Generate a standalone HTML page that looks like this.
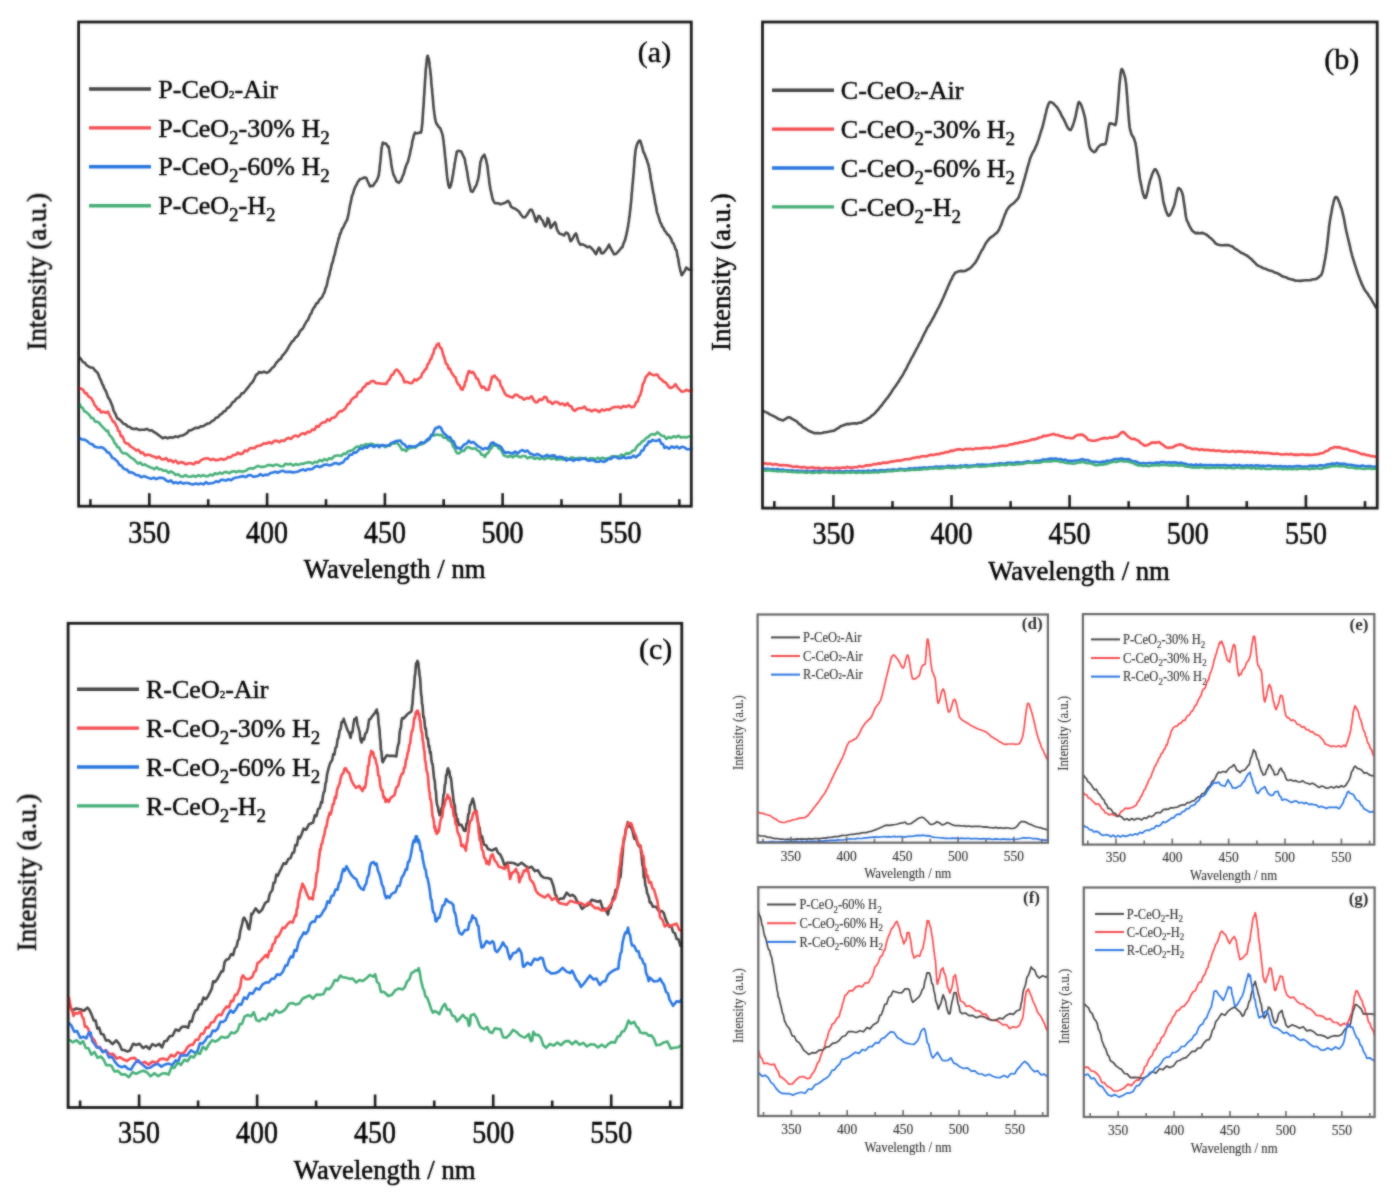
<!DOCTYPE html><html><head><meta charset="utf-8"><style>html,body{margin:0;padding:0;background:#fff;}svg{display:block;}text{font-family:"Liberation Serif",serif;}</style></head><body>
<div id="w"><svg width="1398" height="1199" viewBox="0 0 1398 1199">
<defs><filter id="soft" filterUnits="userSpaceOnUse" x="0" y="0" width="1398" height="1199"><feGaussianBlur in="SourceGraphic" stdDeviation="1" result="b"/><feComposite in="SourceGraphic" in2="b" operator="arithmetic" k1="0" k2="0.45" k3="0.55" k4="0"/></filter><filter id="blur1" filterUnits="userSpaceOnUse" x="0" y="0" width="1398" height="1199"><feGaussianBlur in="SourceGraphic" stdDeviation="1"/></filter></defs>
<rect width="1398" height="1199" fill="#fff"/>
<g filter="url(#soft)">
<path d="M79.4,357.2 L81.2,359.4 L83.0,362.1 L84.8,362.8 L86.6,365.2 L88.8,366.7 L90.9,367.5 L93.0,367.8 L95.2,370.8 L96.3,371.5 L97.5,372.6 L98.6,375.0 L99.8,378.3 L100.9,380.2 L102.1,383.6 L103.2,385.5 L104.3,388.5 L105.3,390.1 L106.3,392.1 L107.3,395.2 L108.4,397.9 L109.4,399.2 L110.4,401.2 L111.4,403.7 L112.4,406.1 L113.4,409.9 L114.5,412.6 L115.5,413.8 L116.5,416.8 L117.5,418.5 L119.1,419.2 L121.2,421.1 L123.4,423.8 L125.5,424.2 L127.7,426.5 L129.8,427.0 L132.0,428.6 L134.1,429.0 L136.5,428.6 L139.1,429.9 L141.7,429.8 L144.3,429.8 L146.9,428.9 L149.5,430.5 L151.7,430.2 L153.9,432.0 L156.1,433.2 L158.3,434.9 L160.5,436.5 L162.7,438.3 L165.1,437.3 L167.7,438.2 L170.3,437.2 L172.9,437.7 L175.5,436.4 L178.1,437.1 L180.3,435.7 L182.5,435.5 L184.7,434.4 L186.9,433.1 L189.1,430.4 L191.3,430.1 L193.6,428.8 L196.0,427.8 L198.4,427.9 L200.8,426.4 L203.2,426.3 L205.6,424.6 L207.8,423.5 L209.8,423.2 L211.9,421.1 L213.9,420.3 L215.9,417.8 L218.0,417.2 L220.0,414.6 L221.9,413.8 L223.7,411.4 L225.5,410.9 L227.3,407.9 L229.1,407.3 L230.9,405.2 L232.7,402.2 L234.5,401.4 L236.3,398.6 L238.1,397.8 L239.9,396.4 L241.7,393.3 L243.4,393.1 L245.2,391.0 L247.0,388.6 L248.8,386.6 L250.4,384.1 L251.8,382.9 L253.3,380.9 L254.7,378.0 L256.1,374.8 L257.6,374.0 L259.0,372.1 L261.1,372.8 L264.0,371.7 L266.8,372.9 L268.7,371.9 L270.5,370.0 L272.4,367.7 L274.3,366.4 L276.1,363.0 L278.0,361.1 L279.4,359.3 L280.8,358.9 L282.3,355.6 L283.7,354.5 L285.1,352.6 L286.5,350.8 L287.9,348.5 L289.3,345.7 L290.8,343.5 L292.2,341.3 L293.6,340.6 L295.1,337.9 L296.7,336.8 L298.3,334.9 L299.8,331.6 L301.4,329.7 L303.0,328.2 L304.2,325.7 L305.4,323.5 L306.6,321.4 L307.8,320.2 L309.0,317.4 L310.1,314.7 L311.3,313.3 L312.5,310.0 L313.7,307.8 L314.9,306.5 L316.2,303.6 L317.8,303.1 L319.2,299.9 L320.8,298.5 L322.2,297.1 L323.3,294.1 L324.0,293.3 L324.7,291.7 L325.3,288.9 L326.0,287.4 L326.7,285.7 L327.3,282.7 L328.0,279.3 L328.7,276.8 L329.3,275.2 L330.0,271.4 L330.7,269.5 L331.3,266.2 L332.0,263.6 L332.7,262.1 L333.3,259.5 L334.0,256.3 L334.7,254.8 L335.3,251.8 L336.0,248.3 L336.6,246.7 L337.3,243.5 L338.0,241.3 L338.6,238.6 L339.3,237.1 L339.9,233.9 L340.6,233.4 L341.7,229.7 L342.9,227.8 L344.0,225.8 L345.1,223.3 L346.2,221.3 L347.1,219.9 L347.6,217.8 L348.2,215.4 L348.7,212.8 L349.3,209.1 L349.8,206.3 L350.4,203.6 L350.9,201.7 L351.5,198.6 L352.0,195.8 L352.6,194.6 L353.1,193.4 L354.3,189.2 L355.4,186.4 L356.6,184.7 L357.7,181.9 L358.9,180.8 L360.0,179.0 L361.9,178.7 L364.4,177.5 L366.2,177.7 L367.5,181.0 L368.7,183.5 L370.0,186.5 L371.4,185.8 L373.1,185.9 L374.8,183.0 L376.4,181.2 L378.1,177.2 L378.4,175.8 L378.8,175.4 L379.1,172.2 L379.5,170.4 L379.8,165.9 L380.2,162.8 L380.5,160.4 L380.9,155.7 L381.2,152.4 L381.5,149.2 L381.9,146.8 L382.2,145.4 L382.6,143.0 L382.9,142.5 L384.1,143.4 L386.1,143.6 L388.1,147.0 L388.6,146.6 L389.0,148.6 L389.5,152.1 L389.9,154.3 L390.4,157.7 L390.8,159.5 L391.3,164.0 L391.7,166.6 L392.2,169.3 L392.6,170.7 L393.1,173.4 L394.2,176.2 L395.4,178.5 L396.5,181.5 L397.6,181.9 L398.7,182.9 L399.7,181.7 L400.7,181.1 L401.7,178.9 L402.7,175.8 L403.7,174.1 L404.7,170.1 L405.7,167.0 L406.7,164.1 L407.7,162.3 L408.5,159.7 L409.2,156.5 L409.8,154.7 L410.5,150.3 L411.1,148.5 L411.8,145.3 L412.4,141.0 L413.1,139.0 L413.7,135.8 L414.4,134.4 L415.0,132.6 L415.7,133.0 L418.2,133.2 L420.7,132.0 L420.9,132.7 L421.1,131.4 L421.4,131.4 L421.6,129.7 L421.8,127.9 L422.0,125.8 L422.3,123.8 L422.5,120.1 L422.7,118.0 L422.9,114.3 L423.1,111.6 L423.4,107.1 L423.6,105.0 L423.8,101.4 L424.0,96.5 L424.3,94.1 L424.5,89.5 L424.7,86.9 L424.9,83.5 L425.1,80.0 L425.4,76.6 L425.6,72.6 L425.8,69.2 L426.0,67.5 L426.3,65.2 L426.5,62.3 L426.7,61.2 L426.9,58.5 L427.1,57.8 L427.4,56.0 L427.6,56.8 L427.8,55.8 L428.1,57.1 L428.4,58.0 L428.7,58.3 L429.0,61.0 L429.3,61.9 L429.6,65.4 L429.9,68.0 L430.2,69.5 L430.5,73.5 L430.8,75.4 L431.1,78.9 L431.4,83.4 L431.7,86.7 L432.0,88.7 L432.3,93.2 L432.6,95.6 L432.9,99.2 L433.2,103.0 L433.5,106.3 L433.8,109.4 L434.1,111.1 L434.4,114.2 L434.7,115.5 L435.0,118.7 L435.3,119.1 L435.6,120.6 L436.3,123.4 L437.6,125.1 L438.9,127.2 L440.1,128.0 L441.4,131.2 L442.2,133.8 L442.5,135.0 L442.8,135.5 L443.1,139.0 L443.5,140.4 L443.8,143.9 L444.1,146.1 L444.4,149.0 L444.8,153.0 L445.1,156.4 L445.4,158.7 L445.8,162.6 L446.1,165.4 L446.4,169.8 L446.7,171.8 L447.1,176.2 L447.4,178.5 L447.7,180.8 L448.0,182.3 L448.4,185.1 L448.7,185.7 L449.0,186.4 L449.3,187.8 L449.8,187.8 L450.3,186.5 L450.9,185.4 L451.4,182.5 L451.9,181.2 L452.5,177.0 L453.0,174.9 L453.6,170.3 L454.1,167.9 L454.7,163.3 L455.2,160.9 L455.8,157.2 L456.3,155.1 L456.8,151.8 L457.4,151.6 L457.9,150.8 L459.2,151.0 L461.2,151.5 L463.2,155.8 L463.8,157.0 L464.3,157.9 L464.9,159.9 L465.5,163.8 L466.0,165.5 L466.6,169.4 L467.2,171.8 L467.7,175.6 L468.3,179.2 L468.9,182.2 L469.4,184.4 L470.0,186.9 L470.6,189.8 L471.1,191.3 L471.7,190.9 L472.6,191.8 L473.8,189.8 L475.0,187.3 L476.2,185.5 L477.4,181.5 L478.2,178.8 L478.6,176.7 L478.9,175.3 L479.3,171.9 L479.7,167.9 L480.1,165.5 L480.4,162.1 L480.8,161.4 L481.8,157.8 L483.2,155.9 L484.4,154.7 L485.3,157.8 L486.1,159.7 L487.0,164.5 L487.3,165.0 L487.7,168.7 L488.0,171.3 L488.3,174.1 L488.7,176.8 L489.0,178.5 L489.3,182.5 L489.7,184.7 L490.0,186.5 L490.6,190.0 L491.2,192.2 L491.8,195.3 L492.5,198.7 L493.1,200.0 L493.7,201.5 L495.3,203.3 L498.0,203.3 L500.7,204.3 L503.2,203.4 L505.6,202.6 L508.0,200.8 L509.5,202.5 L511.0,206.7 L513.0,207.9 L515.3,208.7 L518.0,210.7 L519.3,212.0 L521.0,214.7 L523.0,217.3 L524.9,217.4 L526.6,215.5 L528.4,212.5 L530.1,209.7 L531.8,209.8 L533.2,212.9 L534.3,215.7 L535.0,218.3 L535.7,221.0 L536.5,221.8 L537.5,218.3 L538.5,215.9 L539.8,216.2 L541.2,219.1 L542.7,220.7 L544.0,224.3 L545.3,226.5 L546.3,224.8 L547.0,222.4 L547.7,218.1 L548.4,219.2 L549.1,220.6 L549.9,224.2 L550.6,228.0 L551.8,226.7 L553.4,224.2 L555.0,222.2 L555.9,224.2 L556.7,228.7 L557.6,230.6 L559.2,233.4 L561.6,234.2 L564.0,235.4 L566.0,232.5 L567.5,233.1 L568.5,234.5 L569.5,237.8 L570.5,241.2 L571.7,240.2 L573.1,237.8 L574.6,234.9 L576.0,233.4 L576.9,235.9 L577.7,239.4 L578.6,241.9 L580.2,244.6 L582.5,244.3 L584.8,245.4 L587.2,247.2 L589.6,246.5 L592.0,248.8 L593.3,250.1 L594.7,252.2 L596.0,254.2 L597.0,251.8 L598.0,249.5 L599.0,247.7 L600.0,248.6 L601.0,252.8 L602.0,253.5 L604.0,252.4 L606.0,249.8 L607.5,247.8 L609.0,244.5 L610.2,247.1 L611.5,249.8 L612.8,251.9 L614.0,254.3 L616.0,253.9 L618.0,251.9 L620.0,249.5 L621.5,247.6 L622.4,247.3 L623.3,244.1 L624.2,241.9 L625.1,239.9 L626.0,235.9 L626.4,235.0 L626.8,232.0 L627.2,231.3 L627.6,228.1 L628.0,226.8 L628.4,223.3 L628.8,221.4 L629.2,217.6 L629.6,215.9 L630.0,211.6 L630.2,210.6 L630.5,207.6 L630.7,205.2 L630.9,204.0 L631.2,200.8 L631.4,198.8 L631.6,195.4 L631.8,192.7 L632.1,190.8 L632.3,187.3 L632.5,184.8 L632.8,182.8 L633.0,179.5 L633.2,177.8 L633.5,174.0 L633.7,172.4 L633.9,168.7 L634.2,166.1 L634.4,162.2 L634.6,160.2 L634.8,156.6 L635.1,155.1 L635.3,152.3 L635.5,150.8 L635.8,148.3 L636.0,148.3 L637.1,144.1 L638.2,142.1 L639.3,140.6 L640.2,140.8 L640.9,142.7 L641.7,145.5 L642.4,147.7 L643.2,151.5 L644.1,153.0 L645.0,155.0 L645.9,157.8 L646.8,159.6 L647.7,162.9 L648.4,164.5 L648.9,167.3 L649.3,168.7 L649.8,172.0 L650.2,173.7 L650.6,177.6 L651.1,180.3 L651.5,182.0 L652.0,185.2 L652.4,187.6 L652.9,190.3 L653.4,193.4 L653.9,194.6 L654.4,198.7 L654.8,200.2 L655.3,203.8 L655.8,205.2 L656.3,207.7 L656.8,211.2 L657.2,213.1 L657.7,213.9 L658.2,215.6 L659.2,218.6 L660.2,222.5 L661.2,223.6 L662.2,226.7 L663.2,227.5 L664.6,230.6 L666.0,232.1 L667.4,234.5 L668.8,235.2 L670.2,237.5 L671.3,239.3 L672.4,242.5 L673.5,243.4 L674.6,246.4 L675.7,249.5 L676.5,250.3 L677.1,253.9 L677.6,256.7 L678.2,258.7 L678.8,262.7 L679.3,266.0 L679.9,268.0 L680.5,271.4 L681.1,272.6 L681.6,275.3 L682.2,274.8 L683.5,272.6 L684.9,270.7 L686.2,267.5 L688.7,269.6 L691.2,269.8 L691.2,270.2" fill="none" stroke="#444444" stroke-width="2.6" stroke-linejoin="round" stroke-linecap="round"/>
<path d="M79.4,388.5 L81.2,388.6 L83.0,389.6 L84.9,393.1 L86.7,393.4 L88.5,396.7 L90.2,397.4 L91.7,398.8 L93.2,401.6 L94.8,405.4 L96.3,406.8 L97.8,409.7 L99.4,409.3 L100.9,412.4 L103.3,411.7 L105.6,412.8 L108.0,411.6 L109.3,414.5 L110.6,417.0 L111.9,419.5 L113.2,421.9 L114.5,421.9 L115.8,425.0 L117.1,426.7 L118.3,431.0 L119.6,431.3 L120.8,436.2 L122.1,436.0 L123.3,438.4 L124.6,442.2 L126.2,443.4 L128.2,443.6 L130.2,446.1 L132.2,447.5 L134.2,448.7 L136.3,450.4 L138.5,449.8 L140.7,452.9 L142.9,452.6 L145.1,455.5 L147.3,454.8 L149.5,454.8 L151.9,456.0 L154.3,456.7 L156.7,458.1 L159.0,456.6 L161.4,459.2 L163.8,459.4 L166.2,458.1 L168.6,461.1 L170.9,460.0 L173.3,462.3 L175.7,460.5 L178.1,463.4 L180.7,462.1 L183.3,462.6 L185.9,464.4 L188.5,463.3 L191.1,463.3 L193.6,464.4 L196.0,462.0 L198.4,462.8 L200.8,460.3 L203.2,459.1 L205.6,458.5 L208.1,458.4 L210.7,460.0 L213.3,458.9 L215.8,460.3 L218.4,459.9 L221.0,458.8 L223.4,459.7 L225.8,459.1 L228.2,456.9 L230.6,457.4 L233.0,455.1 L235.4,455.0 L237.8,452.7 L240.2,454.2 L242.6,453.4 L244.9,450.4 L247.3,451.3 L249.7,448.3 L252.1,448.0 L254.5,448.3 L256.9,446.0 L259.2,445.7 L261.6,444.9 L264.0,443.2 L266.5,443.7 L269.1,442.1 L271.6,443.5 L274.2,440.9 L276.7,440.7 L279.2,442.2 L281.6,440.4 L284.0,440.9 L286.3,438.9 L288.7,437.8 L291.1,439.0 L293.5,436.3 L295.9,435.6 L298.3,436.7 L300.6,434.4 L303.0,433.2 L305.4,434.2 L307.7,431.7 L309.9,432.3 L312.1,429.5 L314.3,430.0 L316.5,426.1 L318.7,426.7 L320.9,423.6 L323.1,422.4 L325.3,422.3 L327.5,419.4 L329.7,420.7 L331.9,417.7 L334.1,417.7 L336.2,415.9 L338.1,412.8 L340.0,411.4 L341.9,411.1 L343.8,409.7 L345.7,408.0 L347.6,404.3 L349.5,403.6 L351.2,400.2 L352.9,398.4 L354.5,397.0 L356.2,396.7 L357.9,392.6 L359.6,391.8 L361.3,391.0 L363.0,387.5 L364.8,386.8 L366.9,383.4 L368.9,383.7 L371.0,381.3 L373.6,381.1 L376.2,383.3 L378.8,383.2 L381.4,383.7 L384.0,383.7 L386.2,384.0 L387.9,380.9 L389.7,379.3 L391.4,374.9 L393.2,374.4 L394.9,370.8 L396.7,369.5 L398.3,370.8 L399.8,372.9 L401.4,375.2 L402.9,377.7 L404.5,382.3 L406.0,381.8 L407.9,382.0 L410.1,383.3 L412.3,382.9 L414.4,379.3 L416.6,380.5 L418.8,378.5 L421.0,377.1 L422.3,373.2 L423.6,372.1 L425.0,369.4 L426.3,369.0 L427.6,364.3 L428.9,363.3 L430.1,359.6 L431.2,359.3 L432.3,354.9 L433.4,353.6 L434.4,348.5 L435.5,348.3 L436.6,344.9 L437.7,344.7 L438.7,343.3 L439.6,346.5 L440.6,347.9 L441.5,348.4 L442.5,351.8 L443.5,355.9 L444.4,357.6 L445.4,361.8 L446.3,364.0 L447.5,364.8 L448.8,369.0 L450.1,368.8 L451.4,372.7 L452.7,374.2 L454.0,376.4 L455.4,377.1 L456.8,381.8 L458.2,384.3 L459.7,385.6 L461.1,389.3 L462.5,389.7 L463.4,387.4 L464.3,386.4 L465.2,381.7 L466.1,380.9 L467.0,375.8 L467.9,374.0 L468.8,371.1 L469.7,371.4 L471.4,372.7 L473.0,372.0 L474.7,374.5 L476.3,378.2 L478.0,379.0 L479.3,382.9 L480.6,385.4 L481.9,387.9 L483.8,386.7 L486.3,389.9 L488.7,389.7 L489.5,386.4 L490.4,383.9 L491.2,380.2 L492.0,376.9 L492.9,377.2 L494.4,375.5 L496.8,378.3 L498.5,380.4 L499.6,380.7 L500.8,386.0 L501.9,386.9 L503.3,390.2 L505.0,393.6 L506.7,395.6 L508.4,396.1 L510.1,396.7 L512.6,397.6 L515.1,394.7 L517.4,394.9 L519.6,397.1 L521.7,397.4 L523.9,399.6 L526.5,398.0 L529.0,398.4 L531.6,396.3 L533.4,399.4 L535.3,402.2 L537.4,402.1 L539.6,399.2 L542.0,400.0 L544.2,396.9 L546.3,397.2 L548.1,401.7 L549.9,401.5 L552.5,404.0 L555.2,401.8 L557.8,402.2 L560.3,404.4 L562.7,403.5 L565.0,405.5 L567.4,403.1 L569.8,406.3 L571.4,406.4 L572.9,409.6 L574.9,410.9 L577.3,408.7 L579.7,408.3 L582.1,408.3 L584.5,406.5 L586.9,409.7 L589.2,409.7 L591.6,411.3 L594.1,409.8 L596.6,410.1 L599.2,412.0 L601.7,409.6 L604.3,410.5 L606.8,409.3 L609.3,409.9 L611.6,408.0 L614.0,407.1 L616.3,407.0 L618.7,406.8 L621.0,408.0 L623.4,406.0 L626.1,406.9 L628.8,405.4 L631.4,407.2 L634.1,406.7 L635.3,404.4 L636.6,401.7 L637.8,401.5 L639.1,396.4 L640.3,395.2 L641.0,391.8 L641.7,390.7 L642.4,385.9 L643.1,383.4 L643.8,382.8 L644.5,380.9 L645.7,377.1 L647.6,375.1 L649.4,372.7 L652.5,375.0 L655.1,375.1 L657.3,374.5 L659.5,378.2 L661.7,379.6 L663.5,381.7 L665.4,382.3 L667.2,384.4 L669.1,387.2 L670.9,388.0 L673.2,386.8 L675.5,384.2 L677.5,387.4 L679.6,389.6 L681.6,391.6 L684.1,391.3 L686.5,389.8 L689.0,391.1 L691.5,389.7 L691.5,390.5" fill="none" stroke="#f5484b" stroke-width="2.6" stroke-linejoin="round" stroke-linecap="round"/>
<path d="M79.4,403.6 L81.1,407.2 L82.7,408.0 L84.4,411.4 L86.1,411.8 L87.7,413.4 L89.4,415.1 L91.3,417.9 L93.2,418.1 L95.1,421.6 L97.0,421.7 L99.0,422.6 L100.9,425.1 L102.8,427.1 L104.7,429.2 L106.6,431.2 L107.9,430.7 L109.3,434.8 L110.6,436.2 L112.0,437.7 L113.3,439.8 L114.6,443.2 L116.0,444.1 L117.3,447.3 L119.0,447.3 L121.0,451.4 L123.0,453.3 L125.0,453.3 L127.0,454.0 L129.1,455.9 L131.3,457.8 L133.5,458.9 L135.8,461.4 L138.0,463.6 L140.2,462.5 L142.4,464.9 L144.8,464.4 L147.2,465.8 L149.5,467.0 L151.9,467.9 L154.3,469.1 L156.7,467.3 L159.0,469.3 L161.4,469.3 L163.8,470.8 L166.2,470.5 L168.6,472.8 L171.0,471.4 L173.4,472.8 L175.7,475.0 L178.1,474.1 L180.5,476.3 L182.9,476.6 L185.3,475.1 L187.9,476.5 L190.5,476.7 L193.1,475.7 L195.7,476.8 L198.3,475.2 L200.8,476.3 L203.2,475.1 L205.5,476.1 L207.9,476.2 L210.3,474.5 L212.7,475.5 L215.1,473.2 L217.4,474.1 L219.8,472.6 L222.2,473.7 L224.6,472.0 L227.0,472.1 L229.4,473.2 L231.8,471.6 L234.1,471.3 L236.5,472.2 L238.9,471.0 L241.3,471.6 L243.7,471.4 L246.1,470.6 L248.5,468.8 L250.9,468.3 L253.2,468.6 L255.6,467.1 L258.0,465.9 L260.4,466.9 L262.8,466.9 L265.3,466.4 L267.8,465.1 L270.4,465.0 L272.9,466.0 L275.5,464.7 L278.0,464.8 L280.5,466.3 L283.1,466.2 L285.6,463.8 L288.1,464.5 L290.6,463.8 L293.2,465.5 L295.7,464.1 L298.2,464.9 L300.7,463.9 L303.1,463.9 L305.4,463.0 L307.8,462.4 L310.2,462.3 L312.6,463.6 L315.0,461.7 L317.3,462.4 L319.7,460.0 L322.1,461.2 L324.5,459.0 L326.9,460.4 L329.3,458.3 L331.6,459.1 L334.0,456.3 L336.4,455.5 L338.8,455.5 L341.2,456.0 L343.5,453.6 L345.8,453.9 L348.0,451.4 L350.2,450.7 L352.5,450.2 L354.7,448.3 L356.9,446.5 L359.2,447.3 L361.4,445.1 L363.6,445.9 L365.9,444.0 L368.1,445.0 L370.6,443.7 L373.0,444.2 L375.5,445.7 L377.9,444.9 L380.4,445.6 L382.8,445.6 L385.3,447.2 L387.6,445.2 L389.9,446.0 L392.1,443.3 L394.4,443.7 L396.7,441.7 L398.5,444.6 L400.3,446.8 L402.1,450.0 L403.9,449.5 L406.2,451.1 L408.5,448.5 L410.7,448.0 L413.0,447.2 L415.3,447.8 L417.6,445.6 L419.9,444.6 L422.1,444.2 L424.2,443.0 L426.3,440.0 L428.4,440.4 L430.5,436.7 L432.6,435.7 L434.7,435.3 L436.8,434.5 L439.1,435.1 L441.5,435.0 L443.8,437.8 L446.2,437.5 L448.5,440.5 L450.4,440.7 L451.9,443.0 L453.3,446.9 L454.7,448.4 L456.1,452.1 L457.6,453.4 L459.4,453.2 L461.7,450.8 L464.0,450.9 L466.3,447.7 L468.6,447.1 L470.9,448.4 L473.3,448.8 L475.6,448.3 L478.0,451.0 L479.7,451.3 L481.5,454.8 L483.2,454.9 L484.9,457.0 L486.6,453.7 L488.2,453.0 L489.9,449.6 L491.5,448.0 L493.2,444.9 L494.8,445.8 L496.6,444.4 L498.4,448.3 L500.2,448.9 L502.0,451.7 L503.8,455.4 L505.6,456.1 L508.0,457.0 L510.5,455.7 L512.9,457.3 L515.4,455.3 L517.8,456.2 L520.2,457.3 L522.7,456.0 L525.1,456.0 L527.5,458.4 L530.0,456.9 L532.4,457.4 L534.8,459.0 L537.2,457.6 L539.6,459.2 L542.1,457.9 L544.5,459.3 L546.9,457.8 L549.3,458.0 L551.7,459.0 L554.1,457.7 L556.5,459.7 L559.0,458.9 L561.4,459.2 L563.8,459.6 L566.2,457.7 L568.6,459.6 L571.0,457.6 L573.4,457.7 L575.9,458.9 L578.3,458.0 L580.7,457.7 L583.1,459.0 L585.5,457.8 L588.0,459.7 L590.4,458.2 L592.8,458.2 L595.2,459.5 L597.6,457.7 L600.1,459.0 L602.5,457.7 L604.9,458.7 L607.3,458.3 L609.7,457.8 L612.2,456.2 L614.6,456.2 L617.0,456.6 L619.3,456.3 L621.7,454.6 L624.0,455.7 L626.4,453.1 L628.7,453.9 L631.1,452.2 L632.9,450.5 L634.8,450.3 L636.6,446.9 L638.4,444.8 L640.2,444.0 L642.1,441.2 L643.9,440.8 L645.9,438.2 L648.2,437.0 L650.5,434.8 L652.9,434.1 L655.1,434.7 L657.5,432.2 L659.7,434.1 L661.9,435.8 L664.1,436.1 L666.3,438.9 L668.7,437.0 L671.2,438.1 L673.6,436.2 L676.1,437.3 L678.5,435.7 L681.1,437.6 L683.7,436.9 L686.3,437.6 L688.9,436.4 L691.5,437.4 L691.5,437.1" fill="none" stroke="#43ad74" stroke-width="2.6" stroke-linejoin="round" stroke-linecap="round"/>
<path d="M79.4,437.7 L81.6,439.5 L83.7,439.5 L85.8,440.2 L88.0,441.9 L90.2,443.9 L92.3,444.1 L94.5,446.5 L96.7,447.3 L98.9,447.5 L101.1,447.2 L103.3,448.0 L105.5,449.9 L107.4,452.4 L109.1,452.6 L110.8,455.2 L112.4,458.0 L114.1,458.4 L115.8,460.0 L117.5,461.4 L119.4,464.9 L121.3,465.4 L123.2,468.2 L125.2,469.5 L127.0,469.6 L129.2,472.4 L131.6,472.3 L134.0,473.5 L136.4,475.3 L138.8,475.2 L141.2,477.3 L143.7,476.1 L146.2,476.9 L148.7,478.1 L151.2,478.8 L153.7,477.6 L156.2,479.1 L158.8,477.8 L161.3,477.9 L163.8,478.3 L166.2,480.5 L168.6,481.7 L170.9,480.3 L173.3,483.2 L175.7,482.3 L178.1,483.4 L180.6,482.0 L183.2,483.6 L185.7,483.0 L188.2,483.0 L190.7,484.0 L193.3,484.4 L195.8,483.5 L198.3,484.2 L200.9,483.4 L203.4,484.4 L205.9,482.2 L208.4,483.8 L210.9,483.3 L213.4,483.0 L216.0,481.2 L218.5,482.0 L221.0,479.9 L223.5,479.9 L226.0,480.6 L228.5,479.2 L231.0,480.3 L233.5,478.4 L236.0,477.5 L238.5,477.2 L241.0,476.5 L243.4,476.1 L245.8,477.1 L248.3,475.4 L250.7,475.0 L253.1,476.7 L255.5,476.4 L257.9,476.0 L260.4,474.1 L262.8,475.8 L265.3,474.6 L267.8,475.0 L270.4,473.1 L272.9,472.6 L275.5,471.7 L278.0,472.7 L280.5,471.3 L283.1,470.8 L285.6,472.0 L288.1,471.9 L290.6,471.9 L293.2,472.4 L295.7,472.0 L298.2,471.5 L300.7,470.2 L303.1,469.4 L305.4,470.6 L307.8,469.0 L310.2,469.4 L312.6,468.8 L315.0,466.7 L317.3,466.0 L319.7,467.2 L322.1,466.0 L324.5,464.7 L326.9,464.5 L329.3,465.4 L331.6,464.8 L334.0,463.3 L336.4,463.0 L338.8,464.3 L341.2,463.0 L343.4,462.2 L345.4,458.9 L347.5,458.7 L349.5,454.8 L351.7,454.8 L353.9,452.4 L356.1,452.6 L358.3,450.4 L360.4,448.2 L362.6,448.9 L364.8,446.9 L367.0,447.8 L369.3,445.5 L371.8,445.6 L374.2,447.1 L376.7,445.1 L379.2,447.3 L381.6,445.0 L384.1,445.2 L386.5,446.1 L388.8,445.3 L391.2,442.9 L393.5,442.2 L395.9,441.1 L398.2,440.8 L400.4,440.6 L402.5,443.7 L404.6,444.5 L406.8,447.5 L409.2,446.0 L411.6,446.4 L413.9,446.7 L416.3,445.9 L418.7,444.5 L421.1,442.3 L423.4,443.1 L425.8,441.9 L428.2,438.5 L429.7,439.0 L431.3,434.8 L432.8,434.4 L434.4,430.0 L435.9,427.8 L437.4,427.9 L439.1,426.6 L440.8,427.6 L442.5,431.4 L444.2,433.6 L445.9,434.9 L447.9,437.4 L450.0,437.1 L452.0,440.7 L453.7,441.5 L455.4,445.7 L457.1,448.1 L458.8,447.9 L460.7,449.0 L462.7,446.0 L464.7,444.2 L466.7,443.6 L468.7,440.6 L470.9,442.8 L473.3,442.1 L475.6,444.0 L478.0,446.4 L480.4,447.4 L482.9,449.5 L485.1,448.0 L487.2,448.9 L489.2,446.8 L491.3,442.9 L493.3,442.4 L495.6,444.7 L497.9,445.6 L499.7,445.8 L501.6,447.7 L503.4,451.0 L505.3,452.9 L507.1,452.3 L509.7,452.6 L512.4,453.6 L515.0,451.6 L517.6,453.4 L520.1,451.2 L522.6,450.0 L525.1,451.7 L527.4,450.5 L529.8,453.3 L532.1,454.2 L534.5,455.4 L536.8,454.0 L539.2,454.7 L541.8,456.5 L544.3,456.3 L546.9,454.8 L549.4,456.3 L552.0,455.6 L554.5,455.4 L556.9,457.8 L559.2,456.8 L561.6,457.1 L563.9,457.9 L566.3,460.6 L568.6,459.3 L571.1,459.5 L573.6,460.9 L576.2,459.0 L578.7,460.1 L581.3,459.1 L583.8,458.2 L586.3,459.7 L588.8,460.8 L591.2,460.2 L593.7,460.3 L596.2,461.8 L598.6,461.8 L601.1,460.9 L603.5,461.9 L606.0,461.1 L608.4,458.8 L610.9,459.0 L613.3,457.0 L615.8,456.7 L618.3,458.5 L620.8,458.3 L623.4,456.9 L625.9,458.3 L628.4,457.6 L630.9,457.6 L633.4,455.7 L635.9,457.3 L638.1,455.2 L639.8,454.6 L641.6,450.5 L643.3,450.4 L645.1,446.0 L647.0,445.1 L648.8,441.4 L650.7,441.9 L652.5,439.9 L654.9,440.9 L657.4,440.6 L659.5,439.4 L661.2,443.4 L662.9,443.9 L664.6,448.0 L666.3,446.8 L669.0,448.7 L671.6,446.5 L674.3,447.7 L677.0,446.5 L679.4,448.4 L681.8,446.8 L684.2,447.3 L686.7,449.1 L689.1,449.2 L691.5,448.9 L691.5,448.6" fill="none" stroke="#2573e0" stroke-width="2.6" stroke-linejoin="round" stroke-linecap="round"/>
<rect x="78.6" y="22" width="612.6999999999999" height="484.2" fill="none" stroke="#1a1a1a" stroke-width="2.8"/>
<line x1="90.4" y1="506.2" x2="90.4" y2="499.2" stroke="#1a1a1a" stroke-width="2.6"/>
<line x1="149.3" y1="506.2" x2="149.3" y2="493.2" stroke="#1a1a1a" stroke-width="2.6"/>
<line x1="208.2" y1="506.2" x2="208.2" y2="499.2" stroke="#1a1a1a" stroke-width="2.6"/>
<line x1="267.1" y1="506.2" x2="267.1" y2="493.2" stroke="#1a1a1a" stroke-width="2.6"/>
<line x1="326.0" y1="506.2" x2="326.0" y2="499.2" stroke="#1a1a1a" stroke-width="2.6"/>
<line x1="384.9" y1="506.2" x2="384.9" y2="493.2" stroke="#1a1a1a" stroke-width="2.6"/>
<line x1="443.7" y1="506.2" x2="443.7" y2="499.2" stroke="#1a1a1a" stroke-width="2.6"/>
<line x1="502.6" y1="506.2" x2="502.6" y2="493.2" stroke="#1a1a1a" stroke-width="2.6"/>
<line x1="561.5" y1="506.2" x2="561.5" y2="499.2" stroke="#1a1a1a" stroke-width="2.6"/>
<line x1="620.4" y1="506.2" x2="620.4" y2="493.2" stroke="#1a1a1a" stroke-width="2.6"/>
<line x1="679.3" y1="506.2" x2="679.3" y2="499.2" stroke="#1a1a1a" stroke-width="2.6"/>
<text transform="translate(149.3,542.5) scale(1.0,1.1)" font-size="28" text-anchor="middle" font-weight="normal" fill="#000" stroke="#000" stroke-width="0.5" >350</text>
<text transform="translate(267.1,542.5) scale(1.0,1.1)" font-size="28" text-anchor="middle" font-weight="normal" fill="#000" stroke="#000" stroke-width="0.5" >400</text>
<text transform="translate(384.9,542.5) scale(1.0,1.1)" font-size="28" text-anchor="middle" font-weight="normal" fill="#000" stroke="#000" stroke-width="0.5" >450</text>
<text transform="translate(502.6,542.5) scale(1.0,1.1)" font-size="28" text-anchor="middle" font-weight="normal" fill="#000" stroke="#000" stroke-width="0.5" >500</text>
<text transform="translate(620.4,542.5) scale(1.0,1.1)" font-size="28" text-anchor="middle" font-weight="normal" fill="#000" stroke="#000" stroke-width="0.5" >550</text>
<text x="394.7" y="578" font-size="26.7" text-anchor="middle" font-weight="normal" fill="#000" stroke="#000" stroke-width="0.5" >Wavelength / nm</text>
<text x="0" y="0" font-size="26.9" text-anchor="middle" fill="#000" stroke="#000" stroke-width="0.5" transform="translate(45.8,271.7) rotate(-90)">Intensity (a.u.)</text>
<line x1="89" y1="89.0" x2="151" y2="89.0" stroke="#444444" stroke-width="3.4"/>
<text x="158.3" y="97.6" font-size="26" fill="#000" stroke="#000" stroke-width="0.45">P-CeO<tspan font-size="11">2</tspan>-Air</text>
<line x1="89" y1="127.9" x2="151" y2="127.9" stroke="#f5484b" stroke-width="3.4"/>
<text x="158.3" y="136.5" font-size="26" fill="#000" stroke="#000" stroke-width="0.45">P-CeO<tspan font-size="19" dy="7">2</tspan><tspan dy="-7">-30% H</tspan><tspan font-size="19" dy="7">2</tspan></text>
<line x1="89" y1="166.8" x2="151" y2="166.8" stroke="#2573e0" stroke-width="3.4"/>
<text x="158.3" y="175.4" font-size="26" fill="#000" stroke="#000" stroke-width="0.45">P-CeO<tspan font-size="19" dy="7">2</tspan><tspan dy="-7">-60% H</tspan><tspan font-size="19" dy="7">2</tspan></text>
<line x1="89" y1="205.7" x2="151" y2="205.7" stroke="#43ad74" stroke-width="3.4"/>
<text x="158.3" y="214.3" font-size="26" fill="#000" stroke="#000" stroke-width="0.45">P-CeO<tspan font-size="19" dy="7">2</tspan><tspan dy="-7">-H</tspan><tspan font-size="19" dy="7">2</tspan></text>
<text x="654.5" y="61.9" font-size="30" text-anchor="middle" font-weight="normal" fill="#000" stroke="#000" stroke-width="0.4" >(a)</text>
<path d="M763.0,411.0 L765.2,411.9 L767.5,412.9 L769.8,414.4 L772.0,415.4 L774.2,416.4 L776.4,417.6 L778.6,419.1 L780.8,419.7 L783.0,420.5 L785.5,418.8 L788.0,417.3 L790.3,417.6 L792.6,419.2 L794.9,420.4 L797.0,421.6 L799.0,423.8 L801.0,425.1 L803.0,427.4 L805.0,428.3 L807.2,429.8 L809.8,431.3 L812.2,432.3 L814.8,433.3 L817.2,433.0 L819.7,433.2 L822.2,433.0 L824.6,432.3 L827.1,432.1 L829.5,431.6 L832.0,430.9 L834.2,430.7 L836.3,429.1 L838.5,428.0 L840.6,426.2 L842.8,425.5 L844.9,424.7 L847.2,423.9 L849.6,424.1 L852.0,423.5 L854.4,423.3 L856.8,423.6 L859.1,422.8 L861.3,422.6 L863.5,421.0 L865.7,420.2 L867.9,418.6 L870.1,417.3 L871.7,415.7 L873.4,414.6 L875.0,413.1 L876.7,411.0 L878.3,409.5 L880.0,407.1 L881.6,405.5 L883.3,403.0 L884.8,401.2 L886.2,399.1 L887.7,397.7 L889.1,395.3 L890.5,393.6 L892.0,391.1 L893.4,388.9 L894.8,387.0 L896.1,385.4 L897.4,383.2 L898.8,381.4 L900.1,379.0 L901.4,377.0 L902.7,375.3 L903.8,373.0 L905.0,370.7 L906.1,369.1 L907.2,366.8 L908.4,364.1 L909.5,362.4 L910.7,359.8 L911.9,357.5 L913.1,355.8 L914.3,353.1 L915.4,351.3 L916.6,348.7 L917.8,346.9 L919.0,344.1 L920.2,342.3 L921.3,340.2 L922.4,337.5 L923.5,335.3 L924.6,333.0 L925.7,331.3 L926.8,328.7 L928.0,326.6 L929.3,324.9 L930.5,322.7 L931.7,320.7 L933.0,318.2 L934.2,316.3 L935.3,313.7 L936.5,311.8 L937.6,309.3 L938.8,307.4 L939.9,304.8 L941.1,302.6 L942.2,300.0 L943.2,298.0 L944.2,295.6 L945.2,293.4 L946.2,290.7 L947.2,288.8 L948.2,286.1 L949.2,284.2 L950.2,281.7 L951.5,279.4 L952.7,276.5 L954.0,274.5 L955.2,272.7 L957.9,271.6 L960.6,270.9 L964.0,271.3 L966.0,270.6 L968.0,269.4 L970.0,268.3 L972.0,266.3 L974.0,264.0 L975.2,262.8 L976.5,260.5 L977.7,258.6 L978.9,255.9 L980.2,253.5 L981.4,251.0 L982.7,249.2 L984.0,246.8 L985.3,244.1 L986.7,241.9 L988.0,240.4 L989.8,238.1 L991.6,236.9 L993.5,235.7 L995.3,233.9 L997.1,232.6 L998.5,230.6 L999.5,228.6 L1000.5,226.3 L1001.5,224.1 L1002.5,221.0 L1003.5,218.4 L1004.5,215.6 L1005.5,213.3 L1006.5,210.7 L1007.5,209.1 L1008.9,207.2 L1010.8,205.1 L1012.6,204.0 L1014.4,202.5 L1016.3,200.3 L1018.1,198.3 L1018.9,196.8 L1019.7,194.3 L1020.5,192.4 L1021.3,189.8 L1022.1,186.7 L1022.9,184.4 L1023.7,181.2 L1024.4,179.2 L1025.1,176.6 L1025.8,173.8 L1026.5,171.6 L1027.2,168.6 L1027.9,166.1 L1028.6,163.9 L1029.3,161.5 L1030.0,158.8 L1030.8,156.7 L1031.7,154.7 L1032.8,152.4 L1033.9,150.8 L1035.0,148.6 L1036.1,145.8 L1036.9,144.3 L1037.7,141.8 L1038.5,139.6 L1039.3,136.9 L1040.1,134.5 L1040.9,131.7 L1041.7,129.3 L1042.5,127.0 L1043.2,124.1 L1043.9,121.2 L1044.6,118.4 L1045.4,114.8 L1046.1,112.3 L1046.8,108.9 L1047.6,106.8 L1048.3,104.3 L1049.0,103.1 L1049.7,102.1 L1051.1,102.2 L1053.1,103.2 L1055.1,105.4 L1056.7,106.7 L1057.9,108.6 L1059.2,110.8 L1060.4,112.7 L1061.6,115.7 L1062.9,117.8 L1064.1,119.9 L1065.4,122.8 L1066.8,125.9 L1068.1,128.4 L1069.4,129.7 L1070.6,130.0 L1071.6,128.3 L1072.6,126.1 L1073.6,123.1 L1074.6,119.8 L1075.4,117.2 L1076.0,114.1 L1076.6,110.9 L1077.3,107.9 L1077.9,104.8 L1078.5,102.7 L1079.1,102.0 L1080.1,103.1 L1081.1,104.6 L1082.1,107.6 L1083.1,110.6 L1084.1,114.3 L1084.5,115.9 L1085.0,117.8 L1085.4,120.5 L1085.8,123.0 L1086.2,126.4 L1086.7,129.0 L1087.1,132.6 L1087.5,135.2 L1088.0,138.6 L1088.4,140.9 L1088.8,143.4 L1089.2,145.6 L1089.7,147.0 L1090.1,148.4 L1092.1,150.8 L1094.1,152.2 L1095.8,151.1 L1097.5,148.0 L1099.2,146.0 L1101.3,144.6 L1103.8,144.4 L1105.4,144.0 L1106.0,142.1 L1106.6,139.7 L1107.2,135.9 L1107.7,132.5 L1108.3,129.1 L1108.9,126.0 L1109.5,123.8 L1110.1,123.2 L1112.7,123.9 L1115.2,125.2 L1115.5,124.5 L1115.8,124.1 L1116.0,122.4 L1116.3,120.9 L1116.6,118.4 L1116.9,115.8 L1117.2,113.0 L1117.4,110.2 L1117.7,106.5 L1118.0,103.5 L1118.3,100.0 L1118.6,96.0 L1118.9,92.5 L1119.1,89.2 L1119.4,85.5 L1119.7,82.4 L1120.0,79.6 L1120.3,76.7 L1120.5,74.6 L1120.8,72.3 L1121.1,70.7 L1121.4,69.8 L1121.7,69.0 L1122.2,69.3 L1123.1,70.8 L1123.9,73.3 L1124.8,76.5 L1125.3,78.3 L1125.5,80.2 L1125.8,81.8 L1126.0,83.3 L1126.2,86.0 L1126.5,88.3 L1126.7,91.4 L1126.9,94.0 L1127.2,96.9 L1127.4,100.3 L1127.6,103.2 L1127.9,106.2 L1128.1,109.8 L1128.3,112.6 L1128.6,115.8 L1128.8,118.2 L1129.0,121.0 L1129.3,123.6 L1129.5,125.8 L1129.7,127.7 L1130.0,128.9 L1130.2,129.9 L1131.2,133.4 L1132.2,135.7 L1133.2,136.8 L1134.2,139.2 L1135.2,142.3 L1135.5,143.2 L1135.8,145.5 L1136.2,147.1 L1136.5,149.9 L1136.8,152.3 L1137.1,155.3 L1137.5,158.2 L1137.8,161.0 L1138.1,163.8 L1138.4,166.8 L1138.7,170.0 L1139.1,172.8 L1139.4,175.0 L1139.7,177.6 L1140.0,179.4 L1140.5,181.9 L1141.2,184.8 L1141.9,188.6 L1142.5,191.4 L1143.2,194.3 L1143.9,196.1 L1144.5,197.7 L1145.2,197.9 L1145.9,197.7 L1146.5,195.4 L1147.2,192.8 L1147.9,190.2 L1148.5,186.5 L1149.2,183.9 L1149.9,180.9 L1150.7,178.8 L1151.7,175.6 L1152.7,173.1 L1153.7,170.7 L1154.7,169.4 L1155.7,169.4 L1156.8,170.9 L1157.8,173.4 L1158.9,175.9 L1159.9,179.4 L1160.3,181.4 L1160.7,183.6 L1161.1,186.2 L1161.5,188.8 L1162.0,192.0 L1162.4,194.6 L1162.8,197.5 L1163.2,200.5 L1163.6,202.4 L1164.0,204.2 L1165.0,207.5 L1166.0,210.9 L1166.9,213.1 L1167.9,215.4 L1168.9,215.9 L1170.0,214.9 L1171.1,212.8 L1172.2,210.2 L1173.3,207.6 L1174.2,205.1 L1174.9,202.2 L1175.5,199.2 L1176.2,196.2 L1176.8,192.8 L1177.5,190.4 L1178.1,188.3 L1178.8,188.0 L1180.4,189.2 L1182.1,192.5 L1182.5,194.4 L1183.0,195.8 L1183.4,198.8 L1183.8,201.5 L1184.2,204.3 L1184.7,207.6 L1185.1,210.4 L1185.5,213.8 L1185.9,216.5 L1186.4,218.7 L1186.8,220.4 L1187.8,222.1 L1189.3,225.7 L1190.8,228.3 L1192.3,230.8 L1193.8,231.9 L1195.3,233.1 L1197.4,232.9 L1200.0,233.3 L1202.6,232.9 L1204.8,233.9 L1207.0,235.0 L1209.2,237.0 L1211.4,238.7 L1213.5,240.8 L1215.5,243.4 L1217.5,244.5 L1220.1,245.1 L1222.6,245.2 L1225.2,245.0 L1227.7,245.1 L1230.1,245.8 L1232.3,246.4 L1234.4,248.3 L1236.6,249.6 L1238.8,251.0 L1241.0,252.7 L1243.2,253.5 L1245.4,254.8 L1247.6,256.0 L1249.6,257.7 L1251.4,259.1 L1253.2,261.2 L1255.0,262.7 L1256.8,264.9 L1258.6,265.9 L1260.9,266.9 L1263.2,268.2 L1265.4,268.7 L1267.7,269.9 L1270.0,270.6 L1272.3,271.2 L1274.5,272.4 L1276.8,273.0 L1279.1,274.1 L1281.4,275.8 L1283.6,276.8 L1285.9,277.2 L1288.2,278.6 L1290.7,279.2 L1293.2,279.8 L1295.6,280.7 L1298.1,280.7 L1300.6,280.9 L1303.1,280.5 L1305.7,280.2 L1308.2,280.2 L1310.7,280.1 L1313.2,279.3 L1315.6,279.2 L1317.8,278.0 L1320.0,276.0 L1321.4,274.9 L1321.9,273.2 L1322.5,271.9 L1323.0,269.8 L1323.5,267.1 L1324.1,264.6 L1324.6,261.3 L1325.2,258.7 L1325.7,255.1 L1326.1,253.0 L1326.4,251.0 L1326.7,248.5 L1327.0,246.5 L1327.3,243.5 L1327.6,241.3 L1327.9,238.1 L1328.2,235.7 L1328.5,232.7 L1328.8,230.2 L1329.0,227.2 L1329.3,225.2 L1329.6,223.1 L1329.9,221.1 L1330.2,219.0 L1330.8,215.7 L1331.4,212.8 L1332.0,209.2 L1332.6,206.1 L1333.2,203.8 L1333.8,200.9 L1334.4,199.3 L1335.0,197.6 L1335.6,197.1 L1336.4,197.0 L1337.5,198.1 L1338.5,200.5 L1339.6,203.1 L1340.6,206.3 L1341.7,209.0 L1342.2,211.0 L1342.7,213.2 L1343.2,215.4 L1343.8,217.8 L1344.3,220.4 L1344.8,223.4 L1345.3,226.2 L1345.8,228.7 L1346.3,231.1 L1346.9,233.4 L1347.5,236.3 L1348.1,238.8 L1348.7,241.1 L1349.3,243.9 L1349.9,246.1 L1350.4,248.5 L1351.0,251.4 L1351.6,253.5 L1352.2,255.8 L1352.8,257.8 L1353.4,259.8 L1354.0,261.7 L1354.9,264.8 L1355.7,267.0 L1356.6,270.0 L1357.4,272.4 L1358.3,275.1 L1359.2,277.2 L1360.0,279.7 L1360.9,281.5 L1361.7,284.0 L1362.6,285.5 L1363.5,287.6 L1364.6,289.7 L1366.1,291.7 L1367.6,293.6 L1369.0,296.0 L1370.5,298.0 L1371.7,300.0 L1372.9,302.4 L1374.2,304.4 L1375.4,306.6 L1376.0,307.5" fill="none" stroke="#444444" stroke-width="2.6" stroke-linejoin="round" stroke-linecap="round"/>
<path d="M763.0,463.6 L765.4,463.2 L767.8,464.1 L770.2,463.6 L772.7,464.7 L775.1,464.1 L777.5,464.5 L779.9,465.4 L782.3,465.0 L784.8,465.3 L787.2,465.4 L789.6,465.8 L792.0,466.6 L794.4,466.7 L796.8,466.4 L799.2,467.0 L801.6,467.4 L804.0,466.9 L806.4,467.9 L808.8,467.9 L811.2,467.4 L813.6,467.5 L816.0,468.3 L818.4,467.9 L820.8,468.3 L823.2,468.5 L825.6,467.8 L828.0,468.3 L830.4,467.9 L832.8,468.5 L835.2,467.9 L837.7,467.8 L840.1,468.2 L842.5,467.5 L844.9,467.8 L847.3,466.9 L849.7,467.6 L852.1,467.5 L854.5,467.2 L856.9,467.3 L859.3,466.1 L861.7,466.7 L864.1,466.3 L866.5,465.3 L868.9,465.4 L871.3,465.1 L873.7,464.1 L876.1,464.2 L878.5,463.4 L880.9,463.6 L883.3,462.5 L885.7,462.9 L888.1,462.6 L890.5,461.6 L892.9,461.6 L895.3,460.9 L897.8,460.4 L900.2,460.7 L902.6,460.1 L905.0,459.2 L907.4,459.3 L909.8,459.1 L912.2,458.1 L914.6,457.9 L917.0,457.0 L919.4,457.4 L921.8,456.2 L924.2,456.2 L926.6,456.4 L929.0,455.3 L931.4,454.7 L933.8,455.0 L936.2,454.1 L938.6,454.2 L941.0,453.3 L943.4,453.1 L945.9,452.0 L948.3,452.1 L950.8,450.6 L953.2,450.9 L955.7,449.8 L958.2,449.4 L960.7,449.4 L963.2,449.9 L965.6,448.9 L968.1,449.0 L970.6,448.8 L973.1,449.4 L975.6,448.4 L978.1,448.5 L980.5,448.4 L983.0,448.1 L985.5,447.8 L988.0,447.8 L990.5,448.1 L993.0,447.1 L995.4,447.3 L997.9,446.7 L1000.4,446.1 L1002.9,445.8 L1005.4,445.9 L1007.8,445.4 L1010.3,444.4 L1012.8,444.2 L1015.2,443.2 L1017.6,443.3 L1020.0,442.2 L1022.4,442.2 L1024.8,441.2 L1027.2,441.1 L1029.6,440.5 L1032.0,439.4 L1034.4,439.4 L1036.8,438.8 L1039.1,437.5 L1041.5,437.2 L1043.8,435.7 L1046.2,435.9 L1048.6,435.3 L1050.9,434.8 L1053.3,433.9 L1055.8,435.0 L1058.2,435.0 L1060.7,436.3 L1063.2,436.4 L1065.7,437.8 L1068.1,437.8 L1070.6,438.1 L1072.9,438.3 L1075.1,436.4 L1077.4,435.0 L1079.7,434.9 L1081.8,434.4 L1083.9,435.6 L1085.9,437.1 L1088.0,439.7 L1090.1,440.3 L1092.4,440.8 L1094.9,440.8 L1097.5,440.1 L1100.1,439.1 L1102.6,438.4 L1105.2,437.9 L1107.6,438.4 L1110.1,437.4 L1112.5,437.7 L1115.0,436.6 L1117.2,436.7 L1119.3,434.5 L1121.5,432.4 L1123.5,432.1 L1125.5,433.8 L1127.4,436.0 L1129.4,437.5 L1131.7,439.0 L1134.2,438.7 L1136.7,440.2 L1138.7,440.8 L1140.7,443.2 L1142.6,444.2 L1144.6,445.7 L1146.9,445.2 L1149.3,444.3 L1151.7,442.6 L1154.0,442.6 L1156.7,442.6 L1159.1,442.0 L1161.3,443.9 L1163.5,445.2 L1165.7,447.1 L1167.9,447.9 L1170.2,447.5 L1172.7,447.4 L1175.1,445.8 L1177.6,445.1 L1180.0,444.2 L1182.4,444.9 L1184.9,446.2 L1187.3,447.8 L1189.8,447.8 L1192.2,449.2 L1194.6,448.8 L1197.0,448.9 L1199.4,450.0 L1201.8,449.3 L1204.2,450.1 L1206.6,449.8 L1209.0,450.1 L1211.4,450.5 L1213.8,450.1 L1216.2,451.1 L1218.6,450.6 L1221.0,451.1 L1223.4,451.5 L1225.8,451.0 L1228.2,451.7 L1230.7,451.6 L1233.1,451.1 L1235.5,451.9 L1237.9,451.2 L1240.3,451.4 L1242.7,451.6 L1245.2,452.3 L1247.6,451.5 L1250.0,452.2 L1252.4,451.8 L1254.8,452.7 L1257.2,452.0 L1259.7,453.1 L1262.1,452.4 L1264.5,453.2 L1266.9,452.8 L1269.4,453.2 L1271.8,453.6 L1274.2,454.1 L1276.6,453.5 L1279.1,454.0 L1281.5,454.4 L1283.9,454.5 L1286.3,454.0 L1288.7,454.5 L1291.2,453.9 L1293.6,454.9 L1296.0,454.6 L1298.4,454.9 L1300.9,454.5 L1303.3,454.4 L1305.7,454.9 L1308.1,454.6 L1310.6,455.0 L1313.0,454.7 L1315.4,454.4 L1318.0,454.2 L1320.6,453.2 L1323.2,453.0 L1325.5,451.3 L1327.8,450.7 L1330.1,448.6 L1332.4,448.0 L1334.7,447.0 L1337.0,447.4 L1339.5,447.1 L1341.9,448.3 L1344.4,448.9 L1346.8,448.9 L1349.2,450.2 L1351.7,450.9 L1354.1,451.2 L1356.5,452.0 L1359.0,452.9 L1361.4,454.1 L1363.8,454.0 L1366.3,455.1 L1368.7,455.2 L1371.1,456.1 L1373.6,456.3 L1376.0,457.1 L1376.0,456.9" fill="none" stroke="#f5484b" stroke-width="2.6" stroke-linejoin="round" stroke-linecap="round"/>
<path d="M763.0,468.5 L765.5,469.0 L767.9,468.7 L770.4,469.4 L772.8,469.0 L775.2,469.5 L777.7,469.1 L780.1,469.9 L782.6,469.4 L785.0,470.3 L787.5,470.3 L790.0,470.6 L792.4,470.3 L794.9,471.0 L797.3,470.4 L799.8,471.1 L802.2,470.8 L804.6,471.2 L807.1,470.8 L809.5,471.4 L812.0,470.9 L814.4,470.7 L816.9,471.4 L819.3,470.6 L821.8,470.9 L824.2,471.0 L826.7,471.5 L829.1,470.8 L831.6,471.5 L834.0,471.4 L836.4,471.3 L838.9,470.8 L841.3,471.4 L843.8,471.6 L846.2,470.7 L848.7,471.5 L851.1,470.6 L853.5,470.9 L856.0,471.5 L858.4,470.8 L860.9,471.2 L863.3,470.7 L865.8,471.3 L868.2,470.6 L870.7,471.2 L873.1,470.4 L875.5,470.3 L878.0,470.9 L880.4,470.0 L882.9,470.2 L885.3,470.4 L887.8,469.7 L890.2,470.0 L892.6,469.4 L895.1,469.8 L897.5,469.7 L900.0,468.8 L902.4,469.1 L904.9,469.2 L907.3,469.0 L909.8,468.2 L912.2,468.7 L914.6,468.0 L917.0,468.2 L919.5,467.8 L921.9,467.9 L924.3,467.3 L926.7,467.9 L929.1,467.2 L931.5,467.4 L934.0,466.9 L936.4,466.4 L938.8,467.1 L941.2,466.5 L943.6,466.7 L946.1,466.6 L948.5,465.8 L950.9,466.3 L953.3,465.9 L955.7,466.4 L958.2,466.2 L960.6,465.5 L963.0,466.0 L965.4,465.1 L967.8,465.6 L970.3,465.8 L972.7,465.6 L975.1,465.4 L977.5,464.6 L979.9,464.9 L982.4,464.5 L984.8,464.9 L987.2,464.7 L989.6,464.8 L992.0,464.4 L994.5,463.8 L996.9,464.0 L999.3,463.3 L1001.7,463.3 L1004.1,463.9 L1006.6,462.9 L1009.0,462.7 L1011.4,462.7 L1013.8,463.2 L1016.2,462.2 L1018.7,462.2 L1021.1,462.8 L1023.5,462.3 L1025.9,461.8 L1028.3,461.3 L1030.8,462.0 L1033.2,461.7 L1035.7,460.7 L1038.2,460.8 L1040.7,460.6 L1043.2,459.3 L1045.7,459.8 L1048.3,459.1 L1050.8,458.5 L1053.3,458.9 L1055.7,458.4 L1058.1,459.4 L1060.5,459.0 L1062.9,460.2 L1065.4,459.6 L1067.8,460.8 L1070.2,460.7 L1072.6,461.1 L1075.1,460.5 L1077.7,460.5 L1080.3,459.8 L1082.8,459.1 L1085.2,460.2 L1087.7,460.0 L1090.1,461.2 L1092.5,461.9 L1095.0,461.7 L1097.4,462.0 L1099.8,462.5 L1102.2,461.6 L1104.6,461.9 L1107.0,460.6 L1109.4,461.0 L1111.7,460.3 L1114.1,459.1 L1116.5,459.0 L1118.9,459.1 L1121.3,458.4 L1123.7,459.0 L1126.2,459.4 L1128.6,459.1 L1131.1,460.4 L1133.5,461.5 L1136.0,461.3 L1138.5,462.8 L1140.9,463.5 L1143.4,463.1 L1145.9,463.6 L1148.4,463.0 L1151.0,463.0 L1153.6,463.2 L1156.2,462.5 L1158.7,462.9 L1161.2,462.1 L1163.8,462.1 L1166.2,462.8 L1168.8,462.2 L1171.2,462.8 L1173.8,462.3 L1176.2,462.6 L1178.8,463.3 L1181.2,462.6 L1183.7,463.6 L1186.1,463.8 L1188.6,465.1 L1191.0,464.5 L1193.4,465.4 L1195.8,464.6 L1198.2,465.3 L1200.6,464.6 L1203.0,465.3 L1205.4,465.0 L1207.8,465.3 L1210.2,465.0 L1212.6,465.4 L1215.1,465.4 L1217.5,465.1 L1219.9,465.4 L1222.3,465.2 L1224.7,465.0 L1227.1,465.6 L1229.5,465.5 L1231.9,465.6 L1234.3,464.9 L1236.7,465.7 L1239.1,464.9 L1241.5,465.9 L1244.0,465.9 L1246.4,465.3 L1248.8,465.8 L1251.2,465.3 L1253.6,465.9 L1256.1,465.3 L1258.5,465.5 L1260.9,466.1 L1263.3,465.7 L1265.7,466.3 L1268.2,465.6 L1270.6,465.8 L1273.0,466.6 L1275.4,466.0 L1277.8,466.5 L1280.2,466.0 L1282.7,466.6 L1285.1,466.2 L1287.5,466.7 L1289.9,466.3 L1292.3,466.7 L1294.8,466.2 L1297.2,466.1 L1299.6,466.0 L1302.0,466.7 L1304.5,466.6 L1306.9,466.8 L1309.4,465.9 L1311.8,465.9 L1314.3,465.7 L1316.7,466.3 L1319.2,465.4 L1321.6,465.3 L1324.2,465.8 L1326.8,464.5 L1329.3,464.4 L1331.9,463.5 L1334.5,463.9 L1337.1,463.1 L1339.6,463.9 L1342.1,463.7 L1344.6,463.7 L1347.1,464.8 L1349.7,464.7 L1352.2,465.0 L1354.7,465.6 L1357.2,465.7 L1359.7,466.2 L1362.2,465.6 L1364.7,466.3 L1367.2,466.4 L1369.7,466.1 L1372.2,466.5 L1374.7,466.7 L1376.0,466.5" fill="none" stroke="#2573e0" stroke-width="2.6" stroke-linejoin="round" stroke-linecap="round"/>
<path d="M763.0,469.7 L765.5,470.7 L767.9,470.3 L770.4,470.4 L772.8,471.0 L775.2,470.6 L777.7,471.5 L780.1,471.0 L782.6,471.6 L785.0,471.1 L787.5,471.8 L790.0,471.4 L792.4,472.3 L794.9,471.8 L797.3,472.6 L799.8,472.0 L802.2,472.1 L804.6,472.6 L807.1,472.8 L809.5,472.1 L812.0,473.0 L814.4,472.8 L816.9,472.1 L819.3,473.0 L821.8,472.2 L824.2,472.1 L826.7,472.3 L829.1,472.8 L831.6,472.3 L834.0,473.1 L836.4,472.2 L838.9,472.8 L841.3,472.4 L843.8,472.9 L846.2,472.2 L848.7,472.4 L851.1,472.8 L853.5,472.1 L856.0,473.0 L858.4,472.5 L860.9,472.4 L863.3,472.9 L865.8,472.3 L868.2,472.8 L870.7,472.2 L873.1,472.5 L875.5,471.9 L878.0,472.6 L880.4,471.6 L882.9,471.7 L885.3,471.8 L887.8,471.2 L890.2,471.1 L892.6,471.1 L895.1,470.8 L897.5,470.7 L900.0,470.2 L902.4,470.1 L904.9,470.8 L907.3,470.0 L909.8,470.2 L912.2,469.6 L914.6,470.0 L917.0,469.4 L919.5,469.8 L921.9,469.5 L924.3,468.8 L926.7,469.1 L929.1,468.7 L931.5,468.3 L934.0,468.6 L936.4,468.1 L938.8,468.8 L941.2,468.4 L943.6,468.2 L946.1,467.6 L948.5,467.4 L950.9,468.0 L953.3,467.9 L955.7,467.9 L958.2,467.1 L960.6,467.7 L963.0,466.6 L965.4,466.7 L967.8,467.4 L970.3,467.0 L972.7,466.8 L975.1,466.0 L977.5,466.2 L979.9,466.6 L982.4,466.5 L984.8,466.4 L987.2,466.2 L989.6,465.5 L992.0,465.9 L994.5,465.7 L996.9,464.9 L999.3,465.4 L1001.7,464.6 L1004.1,465.1 L1006.6,465.0 L1009.0,464.1 L1011.4,464.6 L1013.8,464.6 L1016.2,464.2 L1018.7,464.2 L1021.1,463.9 L1023.5,463.9 L1025.9,463.0 L1028.3,462.7 L1030.8,462.6 L1033.2,463.1 L1035.7,462.5 L1038.2,462.8 L1040.7,462.5 L1043.2,461.4 L1045.7,461.2 L1048.3,461.4 L1050.8,461.6 L1053.3,460.9 L1055.7,460.8 L1058.1,461.1 L1060.5,462.0 L1062.9,462.0 L1065.4,462.8 L1067.8,463.2 L1070.2,463.1 L1072.6,463.7 L1075.1,463.5 L1077.7,462.5 L1080.3,462.4 L1082.8,461.8 L1085.2,462.7 L1087.7,463.2 L1090.1,463.1 L1092.5,463.9 L1095.0,465.1 L1097.4,465.3 L1099.8,464.5 L1102.2,464.6 L1104.6,464.2 L1107.0,463.9 L1109.4,462.8 L1111.7,462.2 L1114.1,461.6 L1116.5,462.1 L1118.9,461.1 L1121.3,460.8 L1123.7,461.5 L1126.2,461.3 L1128.6,461.7 L1131.1,462.4 L1133.5,463.3 L1136.0,464.6 L1138.5,465.4 L1140.9,465.4 L1143.4,466.0 L1145.9,465.4 L1148.4,466.2 L1151.0,465.4 L1153.6,465.5 L1156.2,464.9 L1158.7,465.6 L1161.2,464.7 L1163.8,465.0 L1166.2,465.0 L1168.8,465.5 L1171.2,465.4 L1173.8,465.6 L1176.2,465.1 L1178.8,465.6 L1181.2,465.2 L1183.7,465.7 L1186.1,466.7 L1188.6,466.7 L1191.0,467.2 L1193.4,467.6 L1195.8,467.3 L1198.2,467.8 L1200.6,467.2 L1203.0,467.2 L1205.4,467.9 L1207.8,467.9 L1210.2,468.0 L1212.6,467.4 L1215.1,468.0 L1217.5,467.3 L1219.9,468.1 L1222.3,467.5 L1224.7,468.1 L1227.1,468.0 L1229.5,467.4 L1231.9,468.3 L1234.3,468.1 L1236.7,467.7 L1239.1,467.8 L1241.5,468.1 L1244.0,468.2 L1246.4,467.6 L1248.8,467.7 L1251.2,468.5 L1253.6,467.8 L1256.1,468.7 L1258.5,467.9 L1260.9,468.9 L1263.3,468.1 L1265.7,469.0 L1268.2,469.0 L1270.6,468.9 L1273.0,468.5 L1275.4,468.2 L1277.8,469.0 L1280.2,468.4 L1282.7,469.2 L1285.1,468.8 L1287.5,469.2 L1289.9,468.8 L1292.3,469.3 L1294.8,468.7 L1297.2,469.3 L1299.6,468.6 L1302.0,468.8 L1304.5,468.6 L1306.9,468.5 L1309.4,469.2 L1311.8,468.4 L1314.3,468.8 L1316.7,468.0 L1319.2,468.8 L1321.6,468.7 L1324.2,467.5 L1326.8,467.6 L1329.3,467.1 L1331.9,466.1 L1334.5,466.3 L1337.1,465.7 L1339.6,466.4 L1342.1,466.0 L1344.6,466.5 L1347.1,467.3 L1349.7,467.8 L1352.2,467.3 L1354.7,468.2 L1357.2,468.4 L1359.7,467.9 L1362.2,468.7 L1364.7,469.0 L1367.2,468.2 L1369.7,468.4 L1372.2,469.1 L1374.7,468.6 L1376.0,469.0" fill="none" stroke="#43ad74" stroke-width="2.6" stroke-linejoin="round" stroke-linecap="round"/>
<rect x="762.5" y="22" width="614.7" height="486.1" fill="none" stroke="#1a1a1a" stroke-width="2.8"/>
<line x1="774.3" y1="508.1" x2="774.3" y2="501.1" stroke="#1a1a1a" stroke-width="2.6"/>
<line x1="833.4" y1="508.1" x2="833.4" y2="495.1" stroke="#1a1a1a" stroke-width="2.6"/>
<line x1="892.5" y1="508.1" x2="892.5" y2="501.1" stroke="#1a1a1a" stroke-width="2.6"/>
<line x1="951.5" y1="508.1" x2="951.5" y2="495.1" stroke="#1a1a1a" stroke-width="2.6"/>
<line x1="1010.6" y1="508.1" x2="1010.6" y2="501.1" stroke="#1a1a1a" stroke-width="2.6"/>
<line x1="1069.6" y1="508.1" x2="1069.6" y2="495.1" stroke="#1a1a1a" stroke-width="2.6"/>
<line x1="1128.7" y1="508.1" x2="1128.7" y2="501.1" stroke="#1a1a1a" stroke-width="2.6"/>
<line x1="1187.8" y1="508.1" x2="1187.8" y2="495.1" stroke="#1a1a1a" stroke-width="2.6"/>
<line x1="1246.8" y1="508.1" x2="1246.8" y2="501.1" stroke="#1a1a1a" stroke-width="2.6"/>
<line x1="1305.9" y1="508.1" x2="1305.9" y2="495.1" stroke="#1a1a1a" stroke-width="2.6"/>
<line x1="1365.0" y1="508.1" x2="1365.0" y2="501.1" stroke="#1a1a1a" stroke-width="2.6"/>
<text transform="translate(833.4,543.9) scale(1.0,1.1)" font-size="28" text-anchor="middle" font-weight="normal" fill="#000" stroke="#000" stroke-width="0.5" >350</text>
<text transform="translate(951.5,543.9) scale(1.0,1.1)" font-size="28" text-anchor="middle" font-weight="normal" fill="#000" stroke="#000" stroke-width="0.5" >400</text>
<text transform="translate(1069.6,543.9) scale(1.0,1.1)" font-size="28" text-anchor="middle" font-weight="normal" fill="#000" stroke="#000" stroke-width="0.5" >450</text>
<text transform="translate(1187.8,543.9) scale(1.0,1.1)" font-size="28" text-anchor="middle" font-weight="normal" fill="#000" stroke="#000" stroke-width="0.5" >500</text>
<text transform="translate(1305.9,543.9) scale(1.0,1.1)" font-size="28" text-anchor="middle" font-weight="normal" fill="#000" stroke="#000" stroke-width="0.5" >550</text>
<text x="1079" y="580.2" font-size="26.7" text-anchor="middle" font-weight="normal" fill="#000" stroke="#000" stroke-width="0.5" >Wavelength / nm</text>
<text x="0" y="0" font-size="26.9" text-anchor="middle" fill="#000" stroke="#000" stroke-width="0.5" transform="translate(730,272.1) rotate(-90)">Intensity (a.u.)</text>
<line x1="772" y1="90.2" x2="834" y2="90.2" stroke="#444444" stroke-width="3.4"/>
<text x="840.8" y="98.8" font-size="26" fill="#000" stroke="#000" stroke-width="0.45">C-CeO<tspan font-size="11">2</tspan>-Air</text>
<line x1="772" y1="129.1" x2="834" y2="129.1" stroke="#f5484b" stroke-width="3.4"/>
<text x="840.8" y="137.7" font-size="26" fill="#000" stroke="#000" stroke-width="0.45">C-CeO<tspan font-size="19" dy="7">2</tspan><tspan dy="-7">-30% H</tspan><tspan font-size="19" dy="7">2</tspan></text>
<line x1="772" y1="168.0" x2="834" y2="168.0" stroke="#2573e0" stroke-width="3.4"/>
<text x="840.8" y="176.6" font-size="26" fill="#000" stroke="#000" stroke-width="0.45">C-CeO<tspan font-size="19" dy="7">2</tspan><tspan dy="-7">-60% H</tspan><tspan font-size="19" dy="7">2</tspan></text>
<line x1="772" y1="206.9" x2="834" y2="206.9" stroke="#43ad74" stroke-width="3.4"/>
<text x="840.8" y="215.5" font-size="26" fill="#000" stroke="#000" stroke-width="0.45">C-CeO<tspan font-size="19" dy="7">2</tspan><tspan dy="-7">-H</tspan><tspan font-size="19" dy="7">2</tspan></text>
<text x="1341.8" y="68.9" font-size="30" text-anchor="middle" font-weight="normal" fill="#000" stroke="#000" stroke-width="0.4" >(b)</text>
<path d="M68.9,1004.6 L72.5,1010.5 L76.2,1008.5 L80.1,1009.2 L84.0,1010.8 L87.4,1007.6 L89.6,1010.2 L91.8,1015.1 L93.8,1020.5 L95.6,1020.6 L97.3,1028.6 L99.1,1027.6 L101.1,1034.0 L103.5,1034.6 L105.9,1040.5 L108.8,1040.4 L112.5,1044.2 L116.2,1040.3 L119.2,1043.8 L121.8,1049.7 L124.4,1050.1 L127.1,1051.4 L130.1,1050.4 L133.1,1043.8 L136.1,1045.0 L139.5,1043.8 L142.9,1048.0 L146.4,1046.2 L149.4,1049.0 L152.3,1044.1 L155.7,1045.9 L159.2,1043.9 L162.0,1047.4 L164.4,1041.3 L166.8,1040.8 L169.6,1036.3 L172.6,1035.8 L175.6,1029.5 L178.7,1030.9 L182.0,1026.7 L185.4,1026.5 L188.2,1027.7 L190.0,1021.2 L191.8,1021.6 L193.6,1014.7 L195.4,1010.7 L197.4,1009.6 L199.3,1004.3 L201.3,1004.3 L203.5,997.5 L205.9,999.2 L208.3,995.7 L210.1,992.1 L211.7,988.9 L213.2,981.2 L214.8,982.1 L217.2,979.3 L219.7,974.6 L221.5,971.4 L223.1,971.2 L224.6,962.2 L226.2,959.7 L228.7,959.0 L231.2,954.2 L233.1,955.1 L234.8,948.5 L236.6,946.5 L238.0,940.3 L239.1,939.0 L240.1,932.0 L241.1,928.0 L242.1,924.0 L243.1,919.2 L244.1,917.5 L245.3,919.6 L246.7,921.9 L248.1,928.0 L249.3,929.3 L250.0,924.1 L250.7,921.4 L251.3,913.8 L252.0,914.7 L255.6,908.4 L259.1,912.6 L262.1,909.7 L265.0,903.3 L266.9,901.7 L268.2,901.3 L269.6,894.4 L270.9,892.0 L272.3,890.2 L273.6,882.8 L275.0,882.4 L276.3,874.6 L277.7,875.9 L279.0,872.9 L281.3,868.3 L283.6,863.2 L285.9,863.9 L288.2,859.2 L290.5,858.1 L292.5,852.8 L294.0,852.5 L295.4,845.0 L296.9,845.3 L298.4,836.8 L299.8,838.3 L301.3,835.1 L303.6,828.7 L306.2,829.7 L308.9,824.3 L311.5,823.2 L313.1,822.6 L314.8,815.4 L316.4,816.1 L318.0,809.2 L319.7,808.2 L321.3,801.9 L322.1,802.6 L322.9,796.1 L323.7,792.4 L324.6,791.2 L325.4,783.8 L326.2,781.8 L327.0,774.8 L327.8,771.4 L328.9,767.2 L330.0,763.5 L331.1,761.7 L332.2,760.1 L333.3,754.1 L334.4,754.6 L335.5,747.9 L336.6,746.7 L337.6,739.3 L338.6,737.4 L339.6,730.7 L340.6,729.3 L341.6,722.0 L342.6,722.1 L343.7,718.8 L344.9,722.6 L346.4,727.0 L347.8,730.7 L349.2,733.1 L350.6,737.9 L351.6,732.0 L352.5,732.2 L353.5,723.9 L354.4,719.0 L355.4,719.0 L356.4,717.4 L357.5,724.5 L358.5,728.1 L359.5,731.5 L360.5,739.8 L361.6,742.5 L362.8,738.7 L364.0,739.5 L365.3,733.6 L366.6,732.3 L367.9,727.5 L369.1,719.4 L370.4,719.0 L371.7,716.9 L374.6,713.3 L376.8,709.5 L377.2,713.4 L377.7,712.7 L378.1,716.2 L378.6,723.4 L379.1,727.1 L379.5,729.7 L380.0,737.9 L380.5,741.6 L380.9,749.9 L381.4,751.1 L381.9,757.2 L382.3,761.2 L382.8,762.3 L384.0,759.6 L386.8,755.3 L389.6,755.9 L393.5,755.8 L396.3,756.5 L397.0,751.2 L397.6,747.4 L398.3,744.5 L398.9,743.0 L399.6,733.5 L400.2,729.4 L400.9,727.9 L401.5,720.9 L402.2,718.1 L403.8,718.4 L407.2,714.3 L410.7,711.9 L411.2,711.6 L411.6,710.7 L412.1,705.6 L412.5,704.0 L413.0,695.4 L413.4,690.2 L413.9,688.7 L414.3,683.4 L414.8,675.5 L415.2,674.6 L415.7,667.5 L416.1,663.3 L416.6,664.4 L417.0,662.7 L417.5,660.7 L417.9,664.4 L418.3,662.5 L418.7,668.1 L419.1,670.1 L419.6,675.8 L420.0,677.3 L420.4,682.4 L420.8,689.7 L421.2,695.1 L421.6,696.2 L422.0,703.6 L422.5,705.2 L422.9,710.3 L423.3,717.2 L423.7,716.3 L424.4,720.2 L425.1,728.5 L425.8,728.3 L426.5,736.0 L427.2,738.7 L427.9,738.4 L428.6,746.6 L429.3,745.8 L430.0,752.9 L430.7,752.1 L431.4,760.3 L432.1,763.6 L432.6,764.2 L433.2,770.0 L433.7,775.0 L434.2,779.2 L434.8,780.9 L435.3,789.2 L435.9,791.1 L436.4,799.5 L436.9,803.7 L437.5,805.9 L438.0,807.2 L438.6,811.7 L439.1,811.9 L439.6,815.3 L440.2,811.6 L440.9,815.1 L441.5,808.2 L442.2,808.4 L442.8,802.7 L443.5,794.8 L444.2,793.4 L444.8,784.9 L445.5,783.3 L446.1,775.1 L446.8,774.9 L447.4,769.8 L448.1,768.3 L448.8,772.4 L449.4,771.1 L450.1,777.3 L450.8,777.4 L451.4,781.5 L452.1,789.0 L452.8,793.5 L453.4,799.8 L454.1,803.8 L454.8,805.4 L455.4,813.6 L456.1,813.9 L456.8,821.3 L457.5,818.9 L458.8,824.9 L461.4,824.7 L464.1,830.8 L465.6,830.9 L466.5,823.6 L467.3,823.7 L468.2,814.9 L469.1,813.1 L470.0,805.4 L470.8,804.4 L471.7,801.9 L472.8,798.7 L474.0,803.1 L475.2,810.1 L476.3,811.0 L477.1,817.1 L477.9,821.1 L478.7,826.7 L479.5,827.2 L480.4,834.3 L481.2,837.6 L482.0,836.4 L484.0,844.6 L486.0,845.2 L488.0,849.1 L492.0,850.5 L496.0,848.4 L498.0,852.7 L500.0,854.2 L502.2,858.5 L504.5,865.4 L507.2,862.8 L510.8,862.7 L514.4,863.3 L518.0,865.3 L521.6,862.7 L525.1,865.6 L528.4,867.9 L531.6,866.7 L534.9,871.1 L538.0,870.3 L541.0,875.6 L544.0,877.8 L547.4,878.0 L550.9,879.0 L552.8,884.2 L554.0,888.4 L555.2,894.6 L556.4,895.7 L557.6,900.9 L560.2,898.6 L563.5,898.5 L566.7,892.7 L570.0,895.9 L572.4,894.9 L574.8,896.6 L577.2,901.5 L579.6,904.1 L582.0,908.9 L585.2,906.2 L588.5,904.7 L591.7,899.7 L594.9,900.7 L597.7,901.7 L600.3,900.8 L602.9,909.1 L605.4,908.8 L608.0,914.6 L609.3,908.3 L610.6,908.2 L611.9,902.6 L613.1,897.8 L614.4,896.0 L615.6,889.7 L616.8,890.0 L618.0,886.4 L619.2,879.5 L620.1,875.2 L620.5,877.2 L620.9,873.1 L621.3,865.8 L621.7,865.2 L622.1,858.0 L622.5,855.0 L622.8,851.9 L623.2,844.8 L623.6,841.2 L624.0,840.9 L624.9,836.2 L625.8,829.0 L626.8,827.6 L627.7,822.1 L629.1,826.5 L630.9,826.8 L632.6,831.1 L634.3,838.6 L636.0,838.9 L638.0,845.1 L640.0,847.0 L640.5,845.6 L641.0,852.0 L641.4,853.9 L641.9,859.4 L642.4,865.1 L642.9,865.2 L643.4,870.4 L643.8,877.4 L644.6,877.1 L645.5,885.8 L646.3,887.5 L647.2,893.3 L648.1,894.9 L649.0,897.8 L649.8,902.5 L650.7,902.2 L653.0,906.8 L656.0,906.8 L659.0,911.2 L662.0,911.1 L663.8,913.1 L665.7,919.4 L667.5,923.2 L669.4,926.9 L671.2,925.6 L673.1,932.2 L674.9,933.1 L676.7,939.0 L678.6,939.5 L680.4,945.9 L681.0,945.0" fill="none" stroke="#444444" stroke-width="2.6" stroke-linejoin="round" stroke-linecap="round"/>
<path d="M68.9,997.3 L70.0,1003.6 L71.2,1009.5 L72.3,1010.6 L73.5,1015.9 L74.6,1013.4 L78.0,1013.4 L80.8,1011.4 L82.2,1017.0 L83.6,1018.8 L85.0,1026.8 L86.7,1026.5 L88.6,1029.8 L90.6,1036.3 L92.6,1038.0 L94.6,1040.5 L97.2,1047.6 L99.8,1046.9 L102.3,1051.7 L105.7,1050.1 L109.5,1054.2 L113.2,1053.7 L116.5,1058.6 L119.9,1057.2 L123.2,1059.3 L127.0,1061.0 L130.9,1058.2 L134.7,1057.9 L138.0,1061.9 L141.4,1063.2 L144.7,1061.9 L148.6,1064.6 L152.5,1061.6 L156.4,1062.8 L160.2,1059.0 L163.8,1058.6 L167.3,1060.0 L170.9,1054.9 L174.4,1056.5 L177.7,1052.4 L181.0,1053.7 L184.3,1052.5 L187.6,1047.0 L190.3,1044.9 L193.0,1044.7 L195.6,1039.8 L198.3,1039.7 L201.0,1033.8 L203.6,1033.6 L206.1,1027.4 L208.6,1027.7 L211.2,1022.6 L213.7,1022.1 L216.2,1017.2 L218.8,1014.6 L221.4,1015.2 L223.9,1010.0 L226.5,1006.5 L229.1,1007.3 L231.1,1000.8 L233.1,1001.1 L235.1,994.7 L237.0,994.7 L238.6,990.8 L240.1,987.3 L241.5,978.1 L242.9,975.3 L245.9,979.2 L249.5,978.9 L252.5,976.6 L254.2,971.8 L255.8,970.9 L257.5,963.0 L259.1,962.4 L262.6,958.6 L266.0,954.9 L267.7,957.4 L269.4,950.8 L271.1,950.9 L272.8,944.1 L274.5,943.2 L276.2,936.8 L277.9,936.9 L279.9,933.7 L282.4,927.9 L285.0,927.9 L287.6,924.0 L290.2,921.6 L292.7,922.6 L295.3,915.1 L296.1,915.9 L296.8,908.9 L297.6,907.9 L298.3,899.9 L299.1,898.5 L299.8,893.4 L300.6,891.0 L301.3,888.3 L302.5,883.7 L304.8,888.2 L307.0,894.2 L309.3,898.8 L311.5,897.9 L312.2,899.0 L312.8,899.3 L313.5,892.5 L314.1,890.6 L314.8,889.4 L315.4,886.2 L316.1,878.5 L316.7,873.0 L317.4,872.2 L318.0,867.7 L318.7,859.8 L319.3,856.6 L320.0,849.5 L320.6,850.0 L321.3,844.3 L322.3,843.1 L323.4,837.3 L324.4,834.4 L325.5,827.7 L326.5,826.7 L327.6,819.6 L328.6,816.8 L329.6,812.7 L330.7,814.3 L331.7,810.1 L332.8,804.2 L333.8,804.0 L334.9,797.0 L335.9,798.1 L337.1,789.7 L338.3,786.5 L339.6,783.8 L340.8,777.6 L342.0,774.2 L343.2,773.5 L344.5,768.6 L345.7,768.1 L347.6,771.8 L349.4,773.3 L351.3,780.2 L353.2,784.0 L356.0,787.8 L359.2,785.8 L362.5,791.1 L364.1,787.0 L364.9,787.9 L365.7,784.4 L366.5,777.0 L367.3,774.9 L368.0,766.0 L368.8,765.6 L369.6,756.8 L370.4,755.6 L371.2,750.9 L372.0,753.2 L373.1,752.1 L374.1,757.4 L375.2,758.1 L376.2,762.6 L377.3,766.6 L378.3,775.5 L379.3,776.3 L380.4,786.1 L381.4,789.8 L382.5,790.3 L383.5,797.5 L384.6,797.1 L385.6,801.9 L386.9,799.4 L388.8,801.9 L390.7,797.9 L392.6,796.5 L394.5,795.1 L396.3,787.4 L398.2,785.9 L400.1,778.1 L402.0,773.5 L403.2,773.3 L404.1,767.8 L405.0,767.5 L405.9,760.0 L406.7,758.7 L407.6,753.2 L408.5,751.0 L409.4,744.8 L410.2,743.2 L411.0,736.0 L411.8,731.1 L412.6,730.4 L413.4,725.4 L414.2,717.8 L415.0,718.1 L415.9,712.0 L416.7,713.3 L417.4,710.5 L418.0,711.2 L418.6,714.8 L419.2,713.8 L419.7,720.7 L420.3,720.4 L420.9,728.3 L421.5,732.1 L422.1,732.4 L422.7,740.5 L423.3,742.2 L423.9,749.5 L424.5,751.4 L425.0,760.5 L425.6,761.7 L426.2,768.0 L426.8,771.6 L427.4,772.6 L428.0,776.9 L428.6,785.0 L429.1,789.9 L429.7,793.0 L430.3,799.4 L430.9,799.9 L431.5,804.1 L432.0,810.3 L432.6,816.6 L433.2,818.1 L433.8,820.8 L434.4,828.0 L435.0,826.1 L435.5,831.3 L436.1,829.4 L436.7,834.0 L437.8,832.5 L438.9,831.2 L440.0,822.7 L441.1,818.4 L442.2,817.0 L443.3,807.6 L444.4,805.6 L445.5,800.1 L446.6,798.9 L447.7,794.7 L448.8,798.2 L449.7,797.8 L450.7,802.6 L451.7,807.1 L452.7,807.0 L453.7,816.1 L454.6,816.3 L455.6,823.9 L456.6,825.1 L457.6,832.4 L458.8,834.3 L460.1,837.7 L461.4,846.1 L462.8,844.8 L464.1,847.2 L465.2,848.5 L465.9,850.7 L466.6,842.8 L467.3,841.6 L468.0,834.1 L468.6,832.4 L469.3,825.7 L470.0,821.6 L471.6,819.8 L473.3,813.4 L474.9,811.4 L476.2,813.4 L476.7,811.7 L477.2,818.8 L477.7,822.0 L478.3,823.7 L478.8,833.3 L479.3,834.2 L479.8,840.2 L480.8,841.4 L481.9,849.5 L483.0,851.0 L484.2,857.9 L485.3,858.5 L486.5,863.8 L487.6,861.4 L489.1,864.5 L490.9,855.9 L492.7,854.3 L494.7,860.5 L496.7,862.6 L498.7,866.8 L501.1,867.3 L504.6,868.9 L508.0,864.8 L508.7,871.4 L509.3,872.1 L510.0,879.0 L512.0,873.1 L514.0,871.7 L516.0,868.9 L517.1,872.7 L518.2,873.0 L519.3,882.3 L520.5,878.2 L522.2,875.5 L523.8,870.6 L525.5,871.1 L527.0,868.4 L528.5,872.3 L530.0,878.9 L531.5,881.0 L533.6,883.3 L536.0,891.0 L538.4,893.9 L541.2,895.6 L544.8,897.5 L548.4,894.6 L552.0,900.0 L555.6,897.7 L559.2,903.1 L562.8,903.7 L566.5,904.8 L570.2,900.8 L573.8,901.9 L577.5,903.0 L581.2,903.0 L585.0,905.6 L588.8,902.4 L592.0,905.2 L595.0,908.1 L598.0,907.9 L601.0,910.2 L604.4,910.4 L608.0,908.2 L609.7,906.2 L611.4,903.4 L613.1,900.7 L614.9,898.9 L616.2,892.9 L616.6,892.6 L617.1,887.7 L617.6,886.8 L618.1,880.3 L618.6,876.3 L619.1,870.4 L619.6,866.4 L620.1,865.5 L620.5,861.3 L621.0,854.1 L621.5,854.1 L622.0,848.5 L622.9,845.9 L623.8,837.8 L624.7,836.9 L625.7,832.1 L626.6,826.4 L627.5,826.3 L628.4,822.5 L629.5,824.0 L631.2,823.3 L632.8,828.0 L634.4,833.0 L636.0,836.1 L637.5,841.8 L639.0,845.2 L640.5,846.1 L642.0,853.1 L642.8,857.0 L643.5,856.1 L644.2,864.7 L645.0,869.3 L645.8,869.0 L646.5,876.5 L647.6,875.7 L649.2,882.8 L650.9,882.2 L652.5,888.3 L654.0,889.5 L655.5,895.0 L657.0,899.6 L657.6,902.3 L658.2,906.9 L658.8,908.8 L659.4,911.4 L660.0,917.2 L662.4,919.6 L664.8,926.5 L667.2,925.0 L670.4,926.2 L674.0,924.5 L676.6,923.7 L679.2,929.8 L681.0,931.0" fill="none" stroke="#f5484b" stroke-width="2.6" stroke-linejoin="round" stroke-linecap="round"/>
<path d="M68.9,1022.8 L71.6,1025.8 L74.2,1031.7 L77.1,1031.0 L80.3,1037.9 L83.5,1036.7 L86.3,1038.4 L88.9,1032.4 L90.6,1032.5 L92.3,1041.3 L94.0,1043.1 L96.7,1047.2 L99.8,1047.8 L102.9,1052.2 L106.0,1050.6 L109.0,1057.4 L112.0,1056.4 L115.0,1061.9 L118.2,1065.6 L121.5,1067.2 L124.9,1066.1 L128.2,1069.0 L131.1,1069.6 L133.2,1065.7 L135.4,1062.7 L137.9,1060.1 L140.6,1063.0 L143.3,1065.2 L146.9,1068.3 L150.5,1067.4 L154.2,1064.9 L157.8,1063.8 L161.4,1066.6 L165.0,1064.5 L168.7,1063.6 L172.3,1065.1 L175.6,1060.4 L178.1,1061.7 L180.7,1055.1 L183.3,1055.4 L187.1,1055.4 L191.0,1050.2 L194.8,1052.8 L197.4,1051.3 L199.9,1043.4 L202.5,1043.5 L205.0,1040.9 L207.6,1036.5 L210.2,1036.5 L212.8,1030.5 L215.3,1031.2 L217.9,1028.5 L220.4,1021.7 L222.9,1021.9 L225.4,1020.4 L228.0,1014.5 L230.6,1010.3 L233.3,1012.7 L235.9,1009.4 L238.6,1004.3 L241.3,1004.7 L244.1,997.4 L246.8,999.0 L249.7,993.0 L252.8,993.6 L255.9,988.3 L259.3,989.6 L262.6,984.3 L266.0,982.4 L268.8,982.5 L271.6,978.8 L274.4,978.6 L277.1,974.3 L279.9,975.1 L282.7,972.0 L285.5,965.4 L287.3,965.4 L289.2,959.6 L291.0,956.4 L292.8,957.4 L294.6,950.0 L296.5,951.0 L298.3,943.1 L300.1,938.8 L302.0,935.9 L303.8,932.4 L305.7,933.8 L308.0,931.1 L310.2,923.7 L312.5,921.5 L314.7,921.8 L316.9,916.1 L319.2,917.0 L321.4,914.6 L323.6,910.6 L325.6,908.2 L327.5,901.4 L329.5,902.8 L331.5,895.9 L333.5,895.5 L335.5,889.5 L337.5,889.8 L338.9,883.4 L340.4,881.4 L341.8,874.1 L343.3,869.1 L344.7,870.8 L346.5,866.1 L349.0,871.0 L351.4,875.0 L353.8,877.6 L356.3,879.1 L358.7,885.4 L361.2,888.7 L363.6,889.9 L364.9,885.3 L366.1,884.1 L367.4,877.2 L368.7,875.1 L369.9,866.4 L371.2,863.1 L372.5,862.5 L373.8,862.1 L375.1,864.6 L376.5,863.6 L377.9,870.5 L379.3,873.8 L380.6,878.3 L382.0,884.9 L383.4,887.4 L384.8,894.7 L386.2,898.2 L387.5,896.2 L389.4,897.9 L391.4,894.3 L393.5,892.8 L395.5,892.2 L397.6,886.0 L399.6,885.8 L401.7,877.5 L403.7,874.7 L405.8,869.1 L406.9,869.7 L408.0,862.0 L409.1,861.7 L410.3,857.5 L411.4,852.1 L412.5,845.4 L413.6,840.5 L414.7,842.0 L415.8,836.3 L416.9,836.3 L417.8,842.3 L418.8,840.0 L419.8,844.3 L420.8,850.7 L421.8,851.4 L422.7,858.6 L423.7,863.4 L424.7,868.3 L425.7,869.9 L426.7,877.1 L427.5,877.9 L428.3,881.8 L429.2,886.6 L430.0,892.0 L430.8,899.0 L431.6,900.0 L432.4,908.1 L433.2,912.2 L434.0,912.7 L434.8,914.5 L435.6,921.2 L436.4,921.4 L437.8,918.3 L439.4,917.8 L441.1,911.2 L442.7,905.4 L444.3,905.0 L446.0,899.0 L448.4,901.7 L451.1,902.7 L453.3,905.0 L454.2,911.9 L455.1,913.1 L456.0,917.0 L457.0,925.4 L457.9,926.9 L458.8,931.3 L459.7,933.3 L462.0,934.5 L465.0,930.1 L468.0,929.8 L469.5,922.5 L471.0,921.2 L472.5,915.4 L474.1,918.1 L475.8,918.5 L477.4,925.2 L478.5,926.1 L479.2,934.0 L480.0,939.2 L480.8,943.1 L481.5,947.5 L483.1,947.0 L486.4,941.1 L489.8,943.4 L492.4,941.2 L493.8,942.6 L495.1,950.3 L497.0,952.1 L500.0,948.3 L503.0,942.4 L505.1,946.1 L506.7,947.2 L508.4,953.9 L510.0,959.1 L513.0,953.3 L516.0,952.5 L519.0,948.6 L520.6,951.5 L521.4,953.1 L522.3,960.3 L523.1,966.6 L524.0,966.7 L527.4,962.6 L530.9,965.0 L534.3,958.8 L537.7,959.9 L540.7,957.6 L542.7,958.4 L544.7,966.2 L546.7,970.5 L548.7,971.4 L551.2,973.4 L555.0,973.2 L558.8,971.5 L562.5,967.8 L566.2,971.4 L570.0,973.2 L572.1,970.7 L574.3,974.9 L576.4,979.8 L578.6,981.9 L581.0,986.9 L584.0,983.5 L587.0,979.4 L590.0,975.5 L593.3,979.4 L596.5,978.6 L599.8,985.0 L602.9,981.5 L605.4,981.3 L608.0,974.7 L611.0,972.1 L614.0,970.2 L617.0,968.9 L618.4,968.7 L619.0,961.3 L619.6,959.2 L620.4,953.6 L621.5,951.8 L622.5,942.9 L623.6,938.2 L624.7,934.1 L625.8,932.1 L626.9,932.8 L628.0,927.5 L629.0,933.3 L630.0,934.5 L631.0,941.3 L632.0,945.4 L634.2,945.7 L636.5,951.1 L638.5,951.2 L640.2,957.9 L641.8,958.6 L643.5,963.4 L644.9,964.2 L646.1,973.1 L647.4,975.8 L648.7,981.1 L650.0,977.6 L654.0,981.5 L658.0,981.0 L660.0,978.5 L662.0,982.0 L664.0,984.8 L666.0,991.8 L668.0,993.5 L669.5,999.6 L671.0,1002.2 L673.1,1005.8 L676.5,1001.4 L679.9,1001.9 L681.0,1000.0" fill="none" stroke="#2573e0" stroke-width="2.6" stroke-linejoin="round" stroke-linecap="round"/>
<path d="M68.9,1039.6 L72.7,1042.3 L76.5,1040.2 L80.3,1043.7 L83.0,1041.1 L85.8,1048.0 L88.5,1048.3 L91.3,1054.7 L94.5,1052.0 L97.6,1057.9 L100.8,1056.5 L103.6,1059.5 L106.2,1065.2 L108.8,1065.0 L111.4,1065.7 L114.4,1071.5 L118.0,1070.9 L121.5,1074.6 L125.1,1074.2 L128.8,1077.2 L132.5,1072.3 L136.2,1073.8 L139.9,1071.8 L143.5,1070.8 L147.0,1072.4 L150.6,1076.3 L154.4,1073.2 L158.2,1076.1 L162.1,1073.5 L165.7,1073.3 L168.5,1074.7 L171.4,1067.4 L174.4,1067.9 L177.7,1062.6 L181.0,1064.9 L184.3,1059.8 L187.6,1061.2 L190.7,1056.3 L193.7,1057.5 L196.8,1052.6 L199.9,1054.0 L202.9,1046.8 L206.0,1049.5 L209.1,1043.9 L212.1,1040.2 L215.2,1041.7 L218.3,1040.0 L221.6,1036.7 L224.8,1037.7 L228.0,1037.1 L231.2,1032.4 L234.5,1033.2 L237.7,1030.4 L239.8,1024.1 L242.0,1023.9 L244.5,1016.6 L247.7,1015.0 L250.9,1016.2 L253.8,1012.2 L256.4,1020.1 L259.1,1021.2 L262.6,1018.2 L266.0,1019.5 L269.2,1013.6 L272.5,1015.4 L275.8,1010.1 L279.0,1012.8 L282.2,1011.8 L285.5,1009.1 L288.9,1003.8 L292.4,1003.0 L295.8,1004.6 L299.3,1003.6 L302.7,998.5 L306.1,997.0 L309.6,995.4 L313.0,998.7 L316.5,994.5 L319.9,994.9 L323.4,994.1 L326.4,988.4 L329.1,989.3 L331.9,986.0 L334.7,980.1 L337.5,980.6 L340.3,975.7 L343.1,977.3 L346.2,977.6 L349.5,978.9 L352.7,978.5 L356.0,982.5 L359.4,980.1 L362.9,981.0 L366.4,978.3 L369.8,974.9 L373.3,976.6 L375.2,974.2 L377.1,982.2 L379.0,983.5 L380.9,991.9 L382.8,991.8 L384.7,992.5 L388.3,996.0 L391.9,994.8 L395.4,990.1 L399.0,988.5 L402.6,989.4 L404.8,987.3 L407.0,981.5 L409.2,979.6 L411.4,973.1 L413.6,972.0 L415.7,970.3 L417.6,970.6 L418.7,968.1 L419.8,972.5 L420.9,979.7 L422.0,984.4 L423.1,988.7 L424.2,990.4 L425.3,996.0 L427.2,997.8 L429.1,1002.7 L431.0,1008.7 L432.9,1012.7 L434.8,1011.1 L436.7,1012.0 L439.4,1014.1 L442.2,1007.4 L444.9,1003.8 L447.3,1009.8 L449.8,1009.6 L452.2,1015.6 L454.6,1016.4 L457.1,1021.5 L459.9,1018.5 L462.8,1014.8 L465.4,1017.9 L467.2,1018.5 L469.0,1025.9 L470.0,1024.3 L470.6,1015.8 L471.2,1015.3 L474.1,1014.1 L476.5,1017.7 L477.9,1021.3 L479.4,1025.3 L480.8,1027.4 L484.4,1029.3 L487.2,1027.1 L489.6,1032.1 L492.3,1032.9 L495.0,1028.2 L497.8,1029.0 L500.5,1029.1 L503.1,1037.2 L506.1,1037.7 L509.6,1034.8 L513.0,1029.9 L516.5,1032.0 L519.0,1034.6 L520.9,1036.1 L524.9,1037.6 L528.9,1034.0 L529.9,1038.5 L530.9,1041.2 L532.1,1040.5 L533.3,1031.8 L535.5,1035.0 L538.3,1034.8 L540.9,1037.9 L543.3,1045.3 L546.1,1047.8 L549.9,1043.8 L553.6,1045.7 L557.3,1042.6 L561.1,1045.1 L564.8,1041.5 L568.5,1040.9 L572.2,1044.3 L575.9,1041.1 L579.6,1044.7 L583.3,1042.8 L587.0,1046.5 L590.7,1044.2 L594.4,1044.5 L598.0,1047.4 L601.7,1044.7 L605.3,1047.2 L608.5,1043.8 L611.7,1042.0 L614.9,1042.6 L617.7,1036.6 L619.8,1036.1 L622.0,1031.5 L624.1,1031.2 L626.2,1027.1 L628.4,1020.6 L630.9,1023.6 L634.1,1021.8 L636.8,1027.0 L638.4,1027.8 L640.0,1032.3 L642.3,1033.1 L645.9,1033.0 L648.6,1035.6 L651.4,1035.4 L653.9,1038.8 L656.3,1045.2 L659.8,1044.8 L663.8,1042.4 L667.4,1041.5 L670.8,1048.6 L674.4,1047.7 L678.4,1047.3 L681.0,1045.3" fill="none" stroke="#43ad74" stroke-width="2.6" stroke-linejoin="round" stroke-linecap="round"/>
<rect x="68.1" y="623.3" width="613.6999999999999" height="484.20000000000005" fill="none" stroke="#1a1a1a" stroke-width="2.8"/>
<line x1="80.1" y1="1107.5" x2="80.1" y2="1100.5" stroke="#1a1a1a" stroke-width="2.6"/>
<line x1="139.1" y1="1107.5" x2="139.1" y2="1094.5" stroke="#1a1a1a" stroke-width="2.6"/>
<line x1="198.1" y1="1107.5" x2="198.1" y2="1100.5" stroke="#1a1a1a" stroke-width="2.6"/>
<line x1="257.1" y1="1107.5" x2="257.1" y2="1094.5" stroke="#1a1a1a" stroke-width="2.6"/>
<line x1="316.1" y1="1107.5" x2="316.1" y2="1100.5" stroke="#1a1a1a" stroke-width="2.6"/>
<line x1="375.1" y1="1107.5" x2="375.1" y2="1094.5" stroke="#1a1a1a" stroke-width="2.6"/>
<line x1="434.2" y1="1107.5" x2="434.2" y2="1100.5" stroke="#1a1a1a" stroke-width="2.6"/>
<line x1="493.2" y1="1107.5" x2="493.2" y2="1094.5" stroke="#1a1a1a" stroke-width="2.6"/>
<line x1="552.2" y1="1107.5" x2="552.2" y2="1100.5" stroke="#1a1a1a" stroke-width="2.6"/>
<line x1="611.2" y1="1107.5" x2="611.2" y2="1094.5" stroke="#1a1a1a" stroke-width="2.6"/>
<line x1="670.2" y1="1107.5" x2="670.2" y2="1100.5" stroke="#1a1a1a" stroke-width="2.6"/>
<text transform="translate(139.1,1142.7) scale(1.0,1.1)" font-size="28" text-anchor="middle" font-weight="normal" fill="#000" stroke="#000" stroke-width="0.5" >350</text>
<text transform="translate(257.1,1142.7) scale(1.0,1.1)" font-size="28" text-anchor="middle" font-weight="normal" fill="#000" stroke="#000" stroke-width="0.5" >400</text>
<text transform="translate(375.1,1142.7) scale(1.0,1.1)" font-size="28" text-anchor="middle" font-weight="normal" fill="#000" stroke="#000" stroke-width="0.5" >450</text>
<text transform="translate(493.2,1142.7) scale(1.0,1.1)" font-size="28" text-anchor="middle" font-weight="normal" fill="#000" stroke="#000" stroke-width="0.5" >500</text>
<text transform="translate(611.2,1142.7) scale(1.0,1.1)" font-size="28" text-anchor="middle" font-weight="normal" fill="#000" stroke="#000" stroke-width="0.5" >550</text>
<text x="384.7" y="1179" font-size="26.7" text-anchor="middle" font-weight="normal" fill="#000" stroke="#000" stroke-width="0.5" >Wavelength / nm</text>
<text x="0" y="0" font-size="26.9" text-anchor="middle" fill="#000" stroke="#000" stroke-width="0.5" transform="translate(35.8,872.5) rotate(-90)">Intensity (a.u.)</text>
<line x1="77" y1="689.2" x2="139" y2="689.2" stroke="#444444" stroke-width="3.4"/>
<text x="146" y="697.8" font-size="26" fill="#000" stroke="#000" stroke-width="0.45">R-CeO<tspan font-size="11">2</tspan>-Air</text>
<line x1="77" y1="728.1" x2="139" y2="728.1" stroke="#f5484b" stroke-width="3.4"/>
<text x="146" y="736.7" font-size="26" fill="#000" stroke="#000" stroke-width="0.45">R-CeO<tspan font-size="19" dy="7">2</tspan><tspan dy="-7">-30% H</tspan><tspan font-size="19" dy="7">2</tspan></text>
<line x1="77" y1="767.0" x2="139" y2="767.0" stroke="#2573e0" stroke-width="3.4"/>
<text x="146" y="775.6" font-size="26" fill="#000" stroke="#000" stroke-width="0.45">R-CeO<tspan font-size="19" dy="7">2</tspan><tspan dy="-7">-60% H</tspan><tspan font-size="19" dy="7">2</tspan></text>
<line x1="77" y1="805.9" x2="139" y2="805.9" stroke="#43ad74" stroke-width="3.4"/>
<text x="146" y="814.5" font-size="26" fill="#000" stroke="#000" stroke-width="0.45">R-CeO<tspan font-size="19" dy="7">2</tspan><tspan dy="-7">-H</tspan><tspan font-size="19" dy="7">2</tspan></text>
<text x="655.6" y="659" font-size="30" text-anchor="middle" font-weight="normal" fill="#000" stroke="#000" stroke-width="0.4" >(c)</text>
</g><g filter="url(#soft)">
<path d="M758.0,812.1 L760.4,813.2 L762.9,813.4 L765.3,814.3 L767.8,815.0 L770.1,815.6 L772.2,817.1 L774.4,818.5 L776.5,819.6 L778.7,821.3 L780.8,822.2 L783.0,822.5 L785.4,822.3 L787.8,821.2 L790.3,821.0 L792.7,819.8 L795.1,819.5 L797.6,818.7 L800.1,818.2 L802.6,817.8 L805.1,817.5 L806.8,816.2 L808.4,815.0 L810.1,812.7 L811.8,810.9 L813.4,808.3 L815.1,806.5 L816.5,804.4 L818.0,802.8 L819.4,800.6 L820.8,798.7 L822.2,796.5 L823.7,794.7 L825.1,792.6 L826.2,790.3 L827.3,788.6 L828.4,786.4 L829.5,783.6 L830.7,781.8 L831.8,778.9 L832.9,777.0 L834.0,774.3 L835.1,772.4 L836.2,769.7 L837.4,767.8 L838.5,765.2 L839.7,763.3 L840.8,760.7 L842.0,758.8 L843.1,756.0 L844.1,753.9 L845.1,750.7 L846.1,748.3 L847.1,745.4 L848.1,743.7 L849.1,741.9 L851.5,741.0 L853.9,739.6 L855.8,738.8 L857.1,736.9 L858.5,735.0 L859.8,732.7 L861.2,729.7 L862.5,727.2 L863.9,725.2 L865.2,723.1 L866.9,721.6 L868.6,719.8 L870.3,718.5 L871.7,716.3 L872.7,714.0 L873.7,711.7 L874.7,709.0 L875.9,707.1 L877.3,705.3 L878.8,703.5 L880.2,700.9 L880.8,699.8 L881.4,697.7 L882.0,695.5 L882.6,693.6 L883.2,690.6 L883.9,688.5 L884.5,685.4 L885.1,682.9 L885.7,680.2 L886.3,677.4 L886.9,675.4 L887.6,672.5 L888.3,670.1 L889.1,666.3 L889.8,663.7 L890.6,660.3 L891.3,658.0 L892.1,656.4 L892.8,655.4 L894.2,655.1 L896.2,657.5 L898.2,660.0 L899.6,662.5 L900.9,665.3 L902.3,667.5 L903.4,668.0 L904.3,666.0 L905.1,662.2 L905.9,659.1 L906.8,656.4 L907.6,654.9 L908.1,655.8 L908.7,657.5 L909.2,660.6 L909.8,663.3 L910.3,666.9 L910.8,670.4 L911.4,674.0 L911.9,676.3 L912.5,678.5 L913.0,678.9 L915.4,678.8 L917.8,676.9 L919.4,675.5 L920.1,672.7 L920.9,669.3 L921.6,667.1 L923.0,665.1 L925.0,664.3 L925.2,663.3 L925.5,661.4 L925.7,658.7 L926.0,655.3 L926.2,651.9 L926.5,648.7 L926.7,645.1 L927.0,642.6 L927.2,640.5 L927.5,639.1 L927.8,638.9 L928.1,639.7 L928.4,641.8 L928.8,643.9 L929.1,646.5 L929.5,649.5 L929.8,652.4 L930.1,656.0 L930.5,659.0 L930.8,662.4 L931.2,664.8 L931.5,667.3 L931.8,669.2 L932.4,671.7 L933.3,673.7 L934.1,675.6 L935.0,677.8 L935.3,680.0 L935.6,682.1 L935.9,685.6 L936.2,689.0 L936.5,692.0 L936.9,695.7 L937.2,698.4 L937.5,701.0 L937.8,702.2 L938.1,703.4 L938.9,702.0 L939.8,699.4 L940.6,696.2 L941.4,692.6 L942.3,690.2 L943.1,688.9 L943.7,689.9 L944.4,691.5 L945.0,694.8 L945.6,698.2 L946.3,701.6 L946.9,704.8 L947.5,708.3 L948.2,710.7 L948.8,712.1 L949.6,711.7 L950.6,709.9 L951.6,706.2 L952.5,703.2 L953.5,700.0 L954.5,699.4 L955.2,700.0 L955.9,701.9 L956.6,704.5 L957.3,707.9 L958.0,711.4 L958.7,714.1 L959.4,716.9 L960.1,718.1 L962.1,719.9 L964.1,721.3 L966.1,722.4 L968.4,723.6 L970.7,725.4 L973.0,726.5 L975.4,727.7 L977.9,729.0 L980.4,729.7 L982.9,730.8 L985.1,731.5 L987.1,732.9 L989.1,734.4 L991.1,736.4 L993.1,737.4 L995.2,739.1 L997.4,740.1 L999.6,741.9 L1001.7,742.7 L1003.9,744.1 L1006.1,744.4 L1008.5,744.0 L1010.9,744.0 L1013.4,744.0 L1015.8,744.3 L1018.2,744.0 L1019.5,743.6 L1020.9,741.0 L1022.2,738.0 L1022.6,736.8 L1023.0,734.8 L1023.4,732.6 L1023.9,729.4 L1024.3,726.3 L1024.7,723.3 L1025.1,719.6 L1025.5,716.2 L1025.9,713.5 L1026.3,709.9 L1026.8,707.9 L1027.2,705.4 L1027.6,703.8 L1028.0,703.3 L1028.6,703.5 L1029.5,704.9 L1030.4,708.0 L1031.3,711.1 L1032.2,713.8 L1032.8,716.4 L1033.4,718.2 L1034.0,721.3 L1034.6,723.7 L1035.2,726.2 L1035.8,729.2 L1036.4,731.4 L1037.0,734.1 L1037.6,736.1 L1038.2,738.1 L1039.2,741.1 L1040.2,743.6 L1041.1,746.3 L1042.1,748.6 L1043.1,750.2 L1044.1,752.8 L1045.1,754.6 L1046.0,757.0 L1047.0,758.8 L1047.5,760.2" fill="none" stroke="#f5484b" stroke-width="1.7" stroke-linejoin="round" stroke-linecap="round"/>
<path d="M758.0,835.1 L760.5,836.0 L762.9,836.0 L765.4,836.4 L767.8,837.3 L770.3,837.3 L772.7,838.1 L775.2,838.6 L777.6,838.5 L780.1,839.2 L782.5,839.0 L785.0,839.5 L787.4,839.2 L789.8,839.4 L792.2,839.4 L794.6,839.4 L797.0,838.9 L799.4,839.2 L801.9,838.9 L804.3,839.1 L806.7,839.1 L809.1,838.7 L811.5,839.1 L813.9,838.7 L816.3,838.6 L818.7,838.6 L821.1,838.4 L823.5,838.0 L825.9,838.1 L828.3,837.4 L830.7,837.5 L833.1,836.9 L835.5,836.7 L837.9,836.6 L840.3,835.9 L842.7,835.4 L845.1,835.5 L847.5,835.2 L849.8,834.5 L852.2,834.3 L854.6,834.2 L857.0,833.6 L859.3,833.6 L861.7,832.9 L864.1,832.5 L866.5,832.6 L868.8,831.7 L871.2,831.4 L873.5,830.5 L875.8,829.6 L878.1,828.8 L880.3,827.7 L882.6,826.7 L884.9,825.6 L887.2,825.1 L889.9,825.3 L892.5,824.8 L895.2,824.5 L897.7,824.0 L900.1,823.2 L902.5,822.9 L905.0,822.2 L907.0,823.9 L909.1,824.0 L911.2,823.5 L913.4,821.8 L915.5,820.6 L917.7,818.7 L919.8,817.8 L922.0,817.2 L924.0,818.0 L926.0,820.0 L928.0,821.9 L930.0,824.2 L932.0,824.5 L934.5,823.5 L937.1,821.7 L939.6,823.0 L942.1,824.9 L944.5,824.2 L946.9,822.6 L949.3,823.2 L951.7,824.5 L954.1,825.4 L956.6,825.7 L959.1,825.6 L961.5,826.0 L964.0,825.8 L966.5,826.4 L969.0,826.0 L971.4,826.6 L973.9,826.4 L976.4,826.4 L978.9,826.4 L981.3,826.5 L983.8,827.1 L986.2,826.8 L988.6,827.3 L991.1,827.6 L993.5,827.8 L995.9,827.4 L998.4,828.1 L1000.8,827.7 L1003.2,828.3 L1005.7,827.9 L1008.1,828.0 L1010.5,828.3 L1013.0,828.5 L1015.2,827.8 L1017.2,826.2 L1019.2,823.4 L1021.2,821.5 L1023.5,821.7 L1026.0,822.2 L1028.5,823.8 L1031.0,824.6 L1033.4,825.8 L1035.7,826.7 L1038.1,827.3 L1040.4,827.6 L1042.8,828.7 L1045.1,829.0 L1047.5,830.1 L1047.5,829.9" fill="none" stroke="#444444" stroke-width="1.7" stroke-linejoin="round" stroke-linecap="round"/>
<path d="M758.0,842.0 L760.4,842.0 L762.9,841.9 L765.3,842.1 L767.7,842.1 L770.1,841.6 L772.6,841.6 L775.0,841.9 L777.4,842.0 L779.9,841.8 L782.3,841.9 L784.7,841.5 L787.2,841.7 L789.6,841.5 L792.0,841.9 L794.4,841.4 L796.9,841.3 L799.3,841.8 L801.7,841.4 L804.2,841.8 L806.6,841.2 L809.0,841.6 L811.5,841.4 L813.9,841.3 L816.3,841.5 L818.7,841.0 L821.2,841.2 L823.6,841.1 L826.0,840.7 L828.4,840.6 L830.9,840.4 L833.3,840.4 L835.7,840.4 L838.1,839.9 L840.6,840.0 L843.0,839.9 L845.4,839.5 L847.8,839.0 L850.3,838.9 L852.7,839.0 L855.1,838.8 L857.5,838.3 L859.9,838.5 L862.3,838.3 L864.7,837.8 L867.1,837.8 L869.5,837.3 L872.0,837.4 L874.4,836.9 L876.8,837.1 L879.2,837.1 L881.6,837.0 L884.0,836.5 L886.4,836.9 L888.9,836.6 L891.4,837.0 L893.9,836.4 L896.3,836.8 L898.8,836.5 L901.3,836.6 L903.8,836.8 L906.2,836.9 L908.6,836.3 L911.1,836.4 L913.5,836.1 L915.9,835.6 L918.4,835.3 L920.8,835.6 L923.2,835.1 L925.6,835.8 L928.0,835.7 L930.4,836.2 L932.9,837.1 L935.3,837.5 L937.7,837.5 L940.1,838.0 L942.5,837.8 L944.9,838.3 L947.4,838.3 L949.8,838.5 L952.2,838.1 L954.6,838.4 L957.1,838.1 L959.5,838.7 L961.9,838.2 L964.3,838.7 L966.8,838.3 L969.2,838.3 L971.6,838.8 L974.0,838.5 L976.5,838.6 L978.9,838.8 L981.3,838.9 L983.8,838.6 L986.2,839.0 L988.6,838.7 L991.1,839.1 L993.5,839.3 L995.9,838.8 L998.4,839.2 L1000.8,839.3 L1003.2,838.9 L1005.7,839.4 L1008.1,839.1 L1010.5,839.5 L1013.0,839.0 L1015.5,839.5 L1018.0,839.0 L1020.5,838.5 L1023.0,837.7 L1025.4,838.1 L1027.9,837.9 L1030.3,838.0 L1032.8,838.7 L1035.2,838.6 L1037.7,838.9 L1040.1,839.6 L1042.6,839.8 L1045.0,840.2 L1047.5,840.1 L1047.5,840.3" fill="none" stroke="#2573e0" stroke-width="1.7" stroke-linejoin="round" stroke-linecap="round"/>
<rect x="757.6" y="614.5" width="290.30000000000007" height="228.20000000000005" fill="none" stroke="#666" stroke-width="2.2"/>
<line x1="763.0" y1="842.7" x2="763.0" y2="838.7" stroke="#666" stroke-width="1.6"/>
<line x1="790.9" y1="842.7" x2="790.9" y2="836.7" stroke="#666" stroke-width="1.6"/>
<line x1="818.8" y1="842.7" x2="818.8" y2="838.7" stroke="#666" stroke-width="1.6"/>
<line x1="846.6" y1="842.7" x2="846.6" y2="836.7" stroke="#666" stroke-width="1.6"/>
<line x1="874.5" y1="842.7" x2="874.5" y2="838.7" stroke="#666" stroke-width="1.6"/>
<line x1="902.4" y1="842.7" x2="902.4" y2="836.7" stroke="#666" stroke-width="1.6"/>
<line x1="930.3" y1="842.7" x2="930.3" y2="838.7" stroke="#666" stroke-width="1.6"/>
<line x1="958.1" y1="842.7" x2="958.1" y2="836.7" stroke="#666" stroke-width="1.6"/>
<line x1="986.0" y1="842.7" x2="986.0" y2="838.7" stroke="#666" stroke-width="1.6"/>
<line x1="1013.9" y1="842.7" x2="1013.9" y2="836.7" stroke="#666" stroke-width="1.6"/>
<line x1="1041.8" y1="842.7" x2="1041.8" y2="838.7" stroke="#666" stroke-width="1.6"/>
<text transform="translate(790.9,860.5) scale(1.0,1.12)" font-size="13.5" text-anchor="middle" font-weight="normal" fill="#333" stroke="#333" stroke-width="0.15" >350</text>
<text transform="translate(846.6,860.5) scale(1.0,1.12)" font-size="13.5" text-anchor="middle" font-weight="normal" fill="#333" stroke="#333" stroke-width="0.15" >400</text>
<text transform="translate(902.4,860.5) scale(1.0,1.12)" font-size="13.5" text-anchor="middle" font-weight="normal" fill="#333" stroke="#333" stroke-width="0.15" >450</text>
<text transform="translate(958.1,860.5) scale(1.0,1.12)" font-size="13.5" text-anchor="middle" font-weight="normal" fill="#333" stroke="#333" stroke-width="0.15" >500</text>
<text transform="translate(1013.9,860.5) scale(1.0,1.12)" font-size="13.5" text-anchor="middle" font-weight="normal" fill="#333" stroke="#333" stroke-width="0.15" >550</text>
<text transform="translate(907.75,878.2) scale(1.0,1.1)" font-size="12.8" text-anchor="middle" font-weight="normal" fill="#333" stroke="#333" stroke-width="0.12" >Wavelength / nm</text>
<text x="0" y="0" font-size="12.8" text-anchor="middle" fill="#333" stroke="#333" stroke-width="0.12" transform="translate(742.6,732.6) rotate(-90) scale(1,1.12)">Intensity (a.u.)</text>
<line x1="771" y1="637.4" x2="800" y2="637.4" stroke="#444444" stroke-width="2"/>
<text transform="translate(803,642.2) scale(1,1.12)" font-size="12.5" fill="#333" stroke="#333" stroke-width="0.15">P-CeO<tspan font-size="7">2</tspan>-Air</text>
<line x1="771" y1="656.0" x2="800" y2="656.0" stroke="#f5484b" stroke-width="2"/>
<text transform="translate(803,660.8) scale(1,1.12)" font-size="12.5" fill="#333" stroke="#333" stroke-width="0.15">C-CeO<tspan font-size="7">2</tspan>-Air</text>
<line x1="771" y1="674.6" x2="800" y2="674.6" stroke="#2573e0" stroke-width="2"/>
<text transform="translate(803,679.4) scale(1,1.12)" font-size="12.5" fill="#333" stroke="#333" stroke-width="0.15">R-CeO<tspan font-size="7">2</tspan>-Air</text>
<text x="1032.2" y="629.3" font-size="17" text-anchor="middle" font-weight="bold" fill="#2a2a2a" >(d)</text>
<path d="M1083.0,791.7 L1084.8,794.5 L1086.6,794.8 L1088.4,798.0 L1090.2,798.3 L1092.0,800.6 L1094.0,802.3 L1096.0,804.3 L1098.0,803.7 L1100.0,805.5 L1101.8,808.8 L1103.6,809.9 L1105.3,813.0 L1107.1,813.0 L1109.3,815.1 L1111.9,813.9 L1114.5,815.5 L1117.1,816.3 L1119.1,814.9 L1121.1,811.5 L1123.1,810.4 L1125.4,808.2 L1128.1,808.6 L1130.8,807.9 L1132.9,807.3 L1134.5,806.0 L1136.1,805.3 L1137.7,801.8 L1139.3,800.1 L1140.7,796.7 L1141.8,795.9 L1143.0,792.5 L1144.1,789.9 L1145.2,789.3 L1146.4,785.6 L1147.5,783.7 L1148.6,780.4 L1149.6,778.6 L1150.6,777.8 L1151.6,774.8 L1152.6,771.7 L1153.6,770.1 L1154.6,766.6 L1155.6,765.7 L1156.6,763.0 L1157.6,762.0 L1158.7,758.8 L1159.9,757.3 L1161.2,753.8 L1162.4,753.2 L1163.6,750.2 L1164.9,748.9 L1166.1,745.2 L1167.0,745.1 L1167.8,742.3 L1168.7,738.6 L1169.6,737.2 L1170.5,734.0 L1171.3,731.1 L1172.2,729.9 L1173.1,727.9 L1175.1,726.3 L1177.1,726.2 L1179.1,723.4 L1181.1,723.3 L1183.1,720.3 L1184.9,720.3 L1186.4,717.3 L1188.0,715.4 L1189.5,715.0 L1191.1,711.6 L1192.6,710.9 L1194.2,707.5 L1195.3,705.4 L1196.5,704.7 L1197.6,701.5 L1198.8,699.1 L1199.9,697.2 L1201.1,695.3 L1202.2,691.4 L1203.3,689.0 L1204.4,688.8 L1205.5,687.0 L1206.6,683.0 L1207.7,680.7 L1208.6,679.8 L1209.4,676.0 L1210.1,673.4 L1210.9,672.0 L1211.7,670.0 L1212.4,667.4 L1213.2,664.5 L1214.0,660.6 L1214.9,658.1 L1215.7,654.9 L1216.6,652.9 L1217.4,649.1 L1218.3,647.0 L1219.1,643.8 L1219.9,642.1 L1220.8,643.0 L1221.7,641.2 L1222.6,644.0 L1223.5,645.8 L1224.4,648.9 L1225.3,653.3 L1226.2,655.3 L1227.2,660.2 L1228.1,660.7 L1229.0,661.4 L1229.7,662.3 L1230.3,658.1 L1231.0,656.8 L1231.7,651.9 L1232.3,649.3 L1233.0,646.5 L1233.7,644.6 L1234.2,644.5 L1234.6,645.5 L1235.0,646.2 L1235.3,649.0 L1235.7,652.3 L1236.1,655.3 L1236.5,660.6 L1236.9,662.3 L1237.3,667.0 L1237.7,669.0 L1238.0,672.8 L1238.4,673.7 L1238.8,676.0 L1239.7,674.4 L1241.1,674.3 L1242.6,669.8 L1244.0,669.0 L1245.1,666.8 L1246.2,663.8 L1247.3,661.7 L1248.4,660.7 L1249.5,658.2 L1250.2,655.9 L1250.7,653.3 L1251.2,650.6 L1251.6,646.2 L1252.1,643.8 L1252.6,641.1 L1253.1,638.0 L1253.5,636.5 L1254.0,636.1 L1254.3,636.4 L1254.6,636.5 L1255.0,639.4 L1255.3,641.9 L1255.6,643.7 L1255.9,648.2 L1256.2,651.0 L1256.6,655.5 L1256.9,657.5 L1257.2,661.1 L1257.5,662.6 L1257.8,665.2 L1258.8,666.0 L1260.2,669.6 L1261.1,670.1 L1261.4,672.5 L1261.7,673.3 L1262.0,676.7 L1262.2,681.0 L1262.5,684.3 L1262.8,686.5 L1263.1,691.2 L1263.4,694.3 L1263.6,695.2 L1263.9,697.8 L1264.2,700.7 L1264.5,700.7 L1265.0,701.9 L1265.7,698.4 L1266.5,696.5 L1267.2,691.5 L1268.0,689.0 L1268.7,685.6 L1269.5,684.4 L1270.2,686.7 L1270.8,687.0 L1271.5,691.1 L1272.1,693.0 L1272.8,698.1 L1273.5,701.6 L1274.1,703.1 L1274.8,707.0 L1275.4,707.4 L1276.1,709.8 L1277.0,707.3 L1277.9,705.1 L1278.8,703.1 L1279.7,698.1 L1280.6,695.3 L1281.5,695.6 L1282.0,695.6 L1282.6,698.1 L1283.1,699.7 L1283.7,704.3 L1284.2,706.7 L1284.7,711.3 L1285.3,712.8 L1285.8,715.3 L1287.1,717.5 L1289.1,718.1 L1291.1,720.7 L1293.1,719.9 L1295.1,721.1 L1297.3,724.5 L1299.5,724.5 L1301.8,727.2 L1304.0,726.6 L1306.2,729.7 L1308.4,729.6 L1310.6,732.0 L1312.7,731.7 L1314.9,734.3 L1317.1,734.8 L1319.1,735.8 L1321.1,738.1 L1323.1,739.8 L1325.1,743.9 L1327.1,744.8 L1329.1,745.5 L1331.1,746.6 L1333.6,746.0 L1336.2,746.7 L1338.7,745.8 L1341.3,747.0 L1343.8,745.1 L1345.5,746.7 L1346.3,744.4 L1347.2,742.2 L1348.0,740.6 L1348.8,736.5 L1349.7,734.7 L1350.3,731.8 L1350.8,729.7 L1351.3,725.5 L1351.7,723.9 L1352.2,719.7 L1352.7,717.2 L1353.1,712.7 L1353.6,710.8 L1354.0,709.5 L1354.5,707.6 L1355.0,705.7 L1355.6,707.2 L1356.5,708.1 L1357.3,710.0 L1358.2,711.4 L1359.1,715.4 L1359.9,718.6 L1360.8,720.2 L1361.6,722.7 L1362.4,726.3 L1363.2,729.1 L1364.0,731.1 L1364.8,732.4 L1365.6,736.3 L1366.4,737.0 L1367.2,741.0 L1368.2,743.6 L1369.1,744.3 L1370.1,748.2 L1371.1,748.9 L1372.1,751.3 L1373.0,754.9 L1374.0,755.2 L1374.0,756.2" fill="none" stroke="#f5484b" stroke-width="1.7" stroke-linejoin="round" stroke-linecap="round"/>
<path d="M1083.0,774.3 L1084.6,776.8 L1086.3,778.4 L1087.9,781.7 L1089.5,782.8 L1091.2,784.8 L1092.9,787.6 L1094.7,789.9 L1096.4,789.4 L1098.2,793.2 L1100.0,794.7 L1101.3,796.9 L1102.7,798.9 L1104.0,799.9 L1105.3,803.8 L1106.7,804.5 L1108.0,808.4 L1109.8,808.4 L1111.6,810.1 L1113.5,813.4 L1115.3,813.3 L1117.1,816.4 L1119.5,815.7 L1122.0,817.3 L1124.4,819.8 L1126.9,818.7 L1129.3,820.2 L1131.8,818.5 L1134.3,820.0 L1136.8,818.5 L1139.3,818.7 L1141.7,819.9 L1144.1,817.8 L1146.5,818.4 L1148.9,816.1 L1151.3,816.7 L1153.6,815.5 L1155.9,812.8 L1158.3,812.6 L1160.6,812.6 L1162.9,809.9 L1165.3,809.1 L1167.8,809.4 L1170.3,807.9 L1172.7,807.9 L1175.2,807.5 L1177.6,807.1 L1180.1,805.6 L1182.5,804.9 L1184.9,804.8 L1187.4,802.6 L1189.8,802.6 L1192.2,800.9 L1194.2,800.7 L1196.2,798.5 L1198.2,796.9 L1200.2,796.6 L1202.2,793.5 L1204.2,793.4 L1205.8,791.0 L1207.4,788.2 L1209.0,786.7 L1210.6,785.0 L1212.2,781.2 L1213.8,780.6 L1215.4,777.9 L1217.0,774.2 L1218.6,772.0 L1220.2,772.7 L1223.4,771.5 L1226.0,772.3 L1228.0,769.5 L1230.0,767.5 L1232.0,766.7 L1234.0,764.6 L1235.4,767.0 L1236.9,770.4 L1238.3,770.9 L1240.0,772.6 L1242.0,770.5 L1244.0,770.5 L1246.0,768.6 L1248.0,765.8 L1249.4,764.4 L1250.2,760.4 L1251.1,757.6 L1251.9,755.8 L1252.8,752.7 L1253.6,749.7 L1254.5,751.2 L1255.5,752.0 L1256.5,756.5 L1257.5,759.4 L1258.5,760.6 L1259.4,765.2 L1260.3,767.6 L1261.2,770.8 L1262.2,772.3 L1263.1,775.0 L1264.0,774.7 L1265.2,774.4 L1266.4,770.5 L1267.7,768.3 L1268.9,764.5 L1270.2,765.2 L1271.7,768.4 L1273.2,770.5 L1274.6,774.8 L1276.1,774.5 L1277.8,774.3 L1279.4,769.8 L1281.1,768.1 L1282.4,771.1 L1283.8,772.3 L1285.1,775.7 L1286.4,779.6 L1288.3,780.5 L1290.7,779.8 L1293.1,781.0 L1295.5,780.6 L1297.9,781.8 L1300.3,782.0 L1302.7,780.8 L1305.1,782.7 L1307.5,783.3 L1309.8,784.3 L1312.2,783.2 L1314.5,784.3 L1316.9,786.1 L1319.2,787.4 L1321.6,786.0 L1323.9,786.7 L1326.3,788.2 L1328.8,787.8 L1331.3,786.8 L1333.8,788.0 L1336.3,786.4 L1338.8,787.5 L1341.3,785.7 L1343.8,786.9 L1345.7,785.5 L1346.9,783.5 L1348.1,781.7 L1349.3,779.6 L1350.4,776.8 L1351.6,771.8 L1352.8,770.4 L1354.0,767.1 L1355.2,766.2 L1357.4,768.4 L1359.6,769.0 L1361.9,770.3 L1364.1,773.3 L1366.5,772.6 L1369.0,774.6 L1371.5,775.7 L1374.0,775.9 L1374.0,775.2" fill="none" stroke="#444444" stroke-width="1.7" stroke-linejoin="round" stroke-linecap="round"/>
<path d="M1083.0,824.5 L1085.2,826.9 L1087.3,827.2 L1089.5,829.7 L1091.7,829.9 L1093.8,831.9 L1096.0,831.4 L1098.5,832.1 L1100.9,834.4 L1103.4,835.5 L1105.8,834.7 L1108.3,835.0 L1110.8,836.7 L1113.2,835.2 L1115.6,837.1 L1118.0,835.4 L1120.4,837.0 L1122.9,835.4 L1125.3,836.4 L1127.7,835.9 L1130.1,834.5 L1132.6,835.4 L1135.0,833.9 L1137.5,834.6 L1139.9,832.4 L1142.4,833.2 L1144.9,830.8 L1147.2,830.2 L1149.5,830.4 L1151.7,828.7 L1154.0,828.5 L1156.2,825.6 L1158.5,826.3 L1160.7,825.0 L1163.0,821.8 L1165.2,822.6 L1167.3,821.2 L1169.4,819.8 L1171.6,817.8 L1173.7,817.9 L1175.8,815.3 L1178.0,814.1 L1180.1,814.4 L1182.3,811.8 L1184.4,811.1 L1186.6,808.6 L1188.8,808.7 L1190.9,806.0 L1193.1,805.4 L1195.1,804.5 L1196.8,801.5 L1198.6,801.0 L1200.3,797.6 L1202.1,796.4 L1203.8,795.8 L1205.6,793.9 L1207.3,790.9 L1209.1,788.3 L1210.9,786.1 L1212.6,784.0 L1214.4,782.5 L1216.2,783.2 L1218.5,782.1 L1220.8,785.1 L1223.1,785.7 L1225.0,786.3 L1226.5,783.2 L1228.0,779.6 L1229.5,782.3 L1231.0,784.4 L1232.5,787.9 L1234.0,787.8 L1236.2,788.2 L1238.4,786.4 L1240.7,785.8 L1242.9,782.3 L1244.6,781.0 L1245.7,778.0 L1246.8,776.1 L1247.9,774.3 L1249.0,773.3 L1250.0,772.2 L1251.0,776.6 L1252.0,778.5 L1253.0,783.2 L1254.0,785.8 L1255.0,787.1 L1256.0,791.2 L1257.0,792.8 L1258.0,793.4 L1259.7,791.1 L1261.4,788.8 L1263.1,788.0 L1264.8,786.7 L1266.4,789.9 L1267.9,793.1 L1269.5,794.5 L1271.1,795.5 L1273.0,795.2 L1274.8,792.1 L1276.7,791.5 L1278.0,791.4 L1279.4,795.7 L1280.8,796.6 L1282.1,800.2 L1284.5,799.2 L1286.9,799.9 L1289.4,801.5 L1291.8,802.6 L1294.2,801.2 L1296.6,801.1 L1299.0,803.0 L1301.5,802.3 L1303.9,803.6 L1306.3,802.6 L1308.8,804.4 L1311.3,804.1 L1313.8,804.6 L1316.3,804.9 L1318.8,807.2 L1321.3,806.4 L1323.8,807.3 L1326.4,808.4 L1328.9,807.3 L1331.5,807.4 L1334.0,807.4 L1336.6,807.2 L1339.1,808.7 L1340.4,807.0 L1341.8,805.0 L1343.1,802.9 L1344.4,798.5 L1345.8,797.1 L1347.1,792.9 L1348.4,791.4 L1350.0,793.2 L1351.9,794.0 L1353.7,794.8 L1355.5,798.6 L1357.4,800.5 L1359.2,801.1 L1360.8,804.8 L1362.4,805.8 L1364.0,808.9 L1365.6,809.5 L1367.2,810.5 L1369.9,812.2 L1372.6,811.7 L1374.0,812.2" fill="none" stroke="#2573e0" stroke-width="1.7" stroke-linejoin="round" stroke-linecap="round"/>
<rect x="1082.9" y="614.1" width="291.39999999999986" height="230.5" fill="none" stroke="#666" stroke-width="2.2"/>
<line x1="1087.8" y1="844.6" x2="1087.8" y2="840.6" stroke="#666" stroke-width="1.6"/>
<line x1="1116.0" y1="844.6" x2="1116.0" y2="838.6" stroke="#666" stroke-width="1.6"/>
<line x1="1144.2" y1="844.6" x2="1144.2" y2="840.6" stroke="#666" stroke-width="1.6"/>
<line x1="1172.3" y1="844.6" x2="1172.3" y2="838.6" stroke="#666" stroke-width="1.6"/>
<line x1="1200.5" y1="844.6" x2="1200.5" y2="840.6" stroke="#666" stroke-width="1.6"/>
<line x1="1228.7" y1="844.6" x2="1228.7" y2="838.6" stroke="#666" stroke-width="1.6"/>
<line x1="1256.9" y1="844.6" x2="1256.9" y2="840.6" stroke="#666" stroke-width="1.6"/>
<line x1="1285.0" y1="844.6" x2="1285.0" y2="838.6" stroke="#666" stroke-width="1.6"/>
<line x1="1313.2" y1="844.6" x2="1313.2" y2="840.6" stroke="#666" stroke-width="1.6"/>
<line x1="1341.4" y1="844.6" x2="1341.4" y2="838.6" stroke="#666" stroke-width="1.6"/>
<line x1="1369.6" y1="844.6" x2="1369.6" y2="840.6" stroke="#666" stroke-width="1.6"/>
<text transform="translate(1116.0,862.4) scale(1.0,1.12)" font-size="13.5" text-anchor="middle" font-weight="normal" fill="#333" stroke="#333" stroke-width="0.15" >350</text>
<text transform="translate(1172.3,862.4) scale(1.0,1.12)" font-size="13.5" text-anchor="middle" font-weight="normal" fill="#333" stroke="#333" stroke-width="0.15" >400</text>
<text transform="translate(1228.7,862.4) scale(1.0,1.12)" font-size="13.5" text-anchor="middle" font-weight="normal" fill="#333" stroke="#333" stroke-width="0.15" >450</text>
<text transform="translate(1285.0,862.4) scale(1.0,1.12)" font-size="13.5" text-anchor="middle" font-weight="normal" fill="#333" stroke="#333" stroke-width="0.15" >500</text>
<text transform="translate(1341.4,862.4) scale(1.0,1.12)" font-size="13.5" text-anchor="middle" font-weight="normal" fill="#333" stroke="#333" stroke-width="0.15" >550</text>
<text transform="translate(1233.6,880.1) scale(1.0,1.1)" font-size="12.8" text-anchor="middle" font-weight="normal" fill="#333" stroke="#333" stroke-width="0.12" >Wavelength / nm</text>
<text x="0" y="0" font-size="12.8" text-anchor="middle" fill="#333" stroke="#333" stroke-width="0.12" transform="translate(1067.9,733.35) rotate(-90) scale(1,1.12)">Intensity (a.u.)</text>
<line x1="1091" y1="639.4" x2="1120" y2="639.4" stroke="#444444" stroke-width="2"/>
<text transform="translate(1123,644.2) scale(1,1.12)" font-size="12.5" fill="#333" stroke="#333" stroke-width="0.15">P-CeO<tspan font-size="9" dy="3">2</tspan><tspan dy="-3">-30% H</tspan><tspan font-size="9" dy="3">2</tspan></text>
<line x1="1091" y1="658.0" x2="1120" y2="658.0" stroke="#f5484b" stroke-width="2"/>
<text transform="translate(1123,662.8) scale(1,1.12)" font-size="12.5" fill="#333" stroke="#333" stroke-width="0.15">C-CeO<tspan font-size="9" dy="3">2</tspan><tspan dy="-3">-30% H</tspan><tspan font-size="9" dy="3">2</tspan></text>
<line x1="1091" y1="676.6" x2="1120" y2="676.6" stroke="#2573e0" stroke-width="2"/>
<text transform="translate(1123,681.4) scale(1,1.12)" font-size="12.5" fill="#333" stroke="#333" stroke-width="0.15">R-CeO<tspan font-size="9" dy="3">2</tspan><tspan dy="-3">-30% H</tspan><tspan font-size="9" dy="3">2</tspan></text>
<text x="1359" y="629.9" font-size="17" text-anchor="middle" font-weight="bold" fill="#2a2a2a" >(e)</text>
<path d="M758.5,1050.4 L760.2,1056.8 L762.0,1058.6 L763.7,1063.6 L767.0,1063.2 L771.0,1064.8 L774.3,1064.2 L776.2,1068.7 L778.1,1071.4 L780.0,1076.9 L781.9,1077.3 L785.4,1080.3 L788.9,1084.2 L792.4,1083.9 L795.9,1080.0 L799.4,1077.2 L803.4,1076.5 L807.4,1078.7 L809.9,1078.1 L811.8,1074.4 L813.6,1072.4 L815.5,1068.7 L817.3,1063.4 L819.2,1061.2 L820.8,1055.9 L822.1,1052.1 L823.3,1049.4 L824.6,1046.9 L825.8,1040.9 L827.1,1038.6 L828.3,1033.3 L829.6,1029.7 L830.8,1028.6 L832.1,1024.3 L834.4,1022.9 L836.8,1018.5 L839.1,1016.7 L840.3,1011.7 L841.4,1009.1 L842.6,1003.6 L843.8,1000.5 L844.9,995.2 L846.1,994.9 L849.3,990.7 L852.5,990.9 L855.7,987.1 L858.9,985.9 L862.1,986.9 L865.2,982.8 L868.4,982.8 L870.5,978.5 L872.0,976.8 L873.5,972.2 L875.0,966.6 L876.5,965.6 L878.4,962.3 L880.3,956.8 L882.2,955.8 L883.9,950.6 L885.1,949.7 L886.2,943.6 L887.4,939.5 L888.6,935.9 L889.7,934.0 L891.2,929.2 L893.1,927.3 L895.1,923.3 L896.9,921.3 L898.2,925.1 L899.6,928.4 L901.0,935.4 L902.4,938.4 L903.8,944.0 L905.1,941.2 L906.1,940.2 L907.2,932.7 L908.2,932.8 L909.0,932.4 L909.9,937.6 L910.7,940.3 L911.5,946.3 L912.3,952.7 L913.2,954.8 L914.0,958.0 L917.5,955.3 L919.7,956.2 L921.3,950.9 L922.9,948.5 L923.9,942.6 L924.5,940.6 L925.2,935.2 L925.9,929.3 L926.6,926.3 L927.3,920.6 L928.0,921.9 L928.7,920.8 L929.4,923.6 L930.1,926.3 L930.8,927.7 L931.5,933.1 L932.2,936.5 L932.9,940.8 L933.6,947.9 L934.3,953.2 L935.0,958.6 L935.3,959.4 L935.7,964.0 L936.0,968.8 L936.4,975.0 L936.7,978.4 L937.1,983.3 L937.4,984.4 L938.5,980.2 L939.6,977.6 L940.7,970.6 L941.7,969.4 L942.9,967.8 L944.0,972.5 L945.2,974.8 L946.3,980.0 L947.5,987.3 L948.7,989.0 L949.8,993.1 L950.8,990.6 L951.8,988.0 L952.7,983.8 L953.6,976.6 L954.6,975.9 L955.4,974.7 L956.1,978.6 L956.9,984.1 L957.6,986.9 L958.4,993.4 L959.1,995.4 L960.6,1001.0 L963.4,1002.2 L966.3,1006.4 L969.1,1005.7 L972.4,1007.7 L976.0,1011.0 L979.5,1010.9 L982.9,1014.4 L986.1,1014.2 L989.2,1019.2 L992.4,1020.5 L995.8,1019.7 L999.3,1022.2 L1002.8,1024.9 L1006.3,1024.5 L1009.8,1028.6 L1013.1,1026.8 L1016.3,1027.6 L1019.4,1025.5 L1021.7,1019.9 L1022.4,1019.0 L1023.1,1016.1 L1023.7,1010.3 L1024.4,1005.4 L1025.1,998.0 L1025.7,995.4 L1026.4,991.1 L1027.1,991.1 L1028.3,988.8 L1029.9,993.2 L1031.4,996.1 L1032.9,1001.3 L1034.5,1004.1 L1036.1,1008.0 L1037.8,1012.6 L1039.5,1014.5 L1041.2,1017.1 L1042.9,1020.7 L1044.6,1024.2 L1046.4,1029.0 L1047.5,1030.7" fill="none" stroke="#f5484b" stroke-width="1.7" stroke-linejoin="round" stroke-linecap="round"/>
<path d="M758.5,911.6 L759.4,915.4 L760.2,916.4 L761.1,919.7 L762.0,925.3 L762.9,926.7 L763.8,932.5 L764.6,936.0 L765.5,937.7 L766.5,941.3 L767.6,946.4 L768.6,949.4 L769.7,950.6 L770.8,955.5 L771.8,957.7 L772.7,963.9 L773.3,965.3 L773.9,970.6 L774.5,973.8 L775.1,976.9 L775.8,982.1 L776.4,984.3 L777.0,990.2 L777.6,991.7 L778.2,996.8 L779.1,998.3 L780.2,1003.0 L781.3,1007.3 L782.3,1012.7 L783.4,1014.9 L784.5,1020.8 L785.6,1022.7 L786.6,1025.2 L787.7,1026.5 L789.9,1029.6 L792.1,1035.8 L794.3,1036.2 L796.5,1041.0 L798.7,1042.3 L801.1,1045.5 L803.6,1050.1 L806.2,1052.1 L808.7,1054.5 L812.2,1052.7 L815.8,1052.8 L819.3,1050.0 L822.8,1050.1 L826.0,1047.2 L829.3,1046.6 L832.5,1043.4 L835.7,1042.9 L838.9,1040.8 L842.1,1036.7 L845.3,1035.7 L848.5,1031.6 L852.3,1031.5 L856.1,1032.5 L860.0,1030.8 L863.6,1031.8 L866.8,1027.6 L870.0,1028.9 L873.3,1024.8 L876.5,1023.1 L878.1,1021.5 L879.8,1015.6 L881.4,1014.8 L883.1,1009.9 L884.7,1004.4 L886.5,1004.2 L888.7,997.4 L890.9,995.8 L893.0,991.0 L895.2,991.7 L898.8,992.8 L902.0,992.6 L905.1,988.9 L908.2,988.8 L909.4,990.1 L910.5,995.2 L911.7,1000.0 L912.9,1002.3 L915.8,999.6 L918.7,997.2 L920.5,994.4 L922.2,989.7 L923.8,987.8 L924.8,981.2 L925.9,978.2 L926.9,972.9 L928.0,973.1 L929.3,972.8 L930.6,976.8 L931.8,983.4 L933.0,984.8 L933.9,990.9 L934.8,994.0 L935.7,1000.6 L936.5,1002.6 L937.4,1005.1 L938.3,1009.4 L939.4,1006.2 L940.7,1004.0 L941.9,999.3 L943.2,994.7 L944.4,998.1 L945.6,1001.1 L946.7,1007.6 L947.9,1011.9 L949.1,1014.2 L950.1,1013.1 L951.0,1007.1 L952.0,1001.5 L953.0,998.2 L953.9,993.0 L954.9,992.5 L955.9,992.7 L956.9,996.5 L958.0,1003.5 L959.0,1006.0 L960.0,1011.7 L961.9,1013.7 L965.4,1013.0 L968.9,1015.7 L972.6,1015.4 L976.5,1017.7 L980.3,1016.1 L984.1,1016.8 L987.9,1018.9 L991.7,1020.1 L995.6,1020.4 L999.3,1018.2 L1002.8,1018.8 L1006.3,1015.4 L1009.8,1013.7 L1013.3,1014.4 L1016.9,1010.7 L1019.5,1010.0 L1020.3,1008.7 L1021.1,1003.5 L1022.0,1000.7 L1022.8,993.9 L1023.6,989.9 L1024.4,987.7 L1025.5,984.8 L1026.9,977.3 L1028.3,975.5 L1029.7,971.9 L1031.1,966.9 L1032.7,969.0 L1034.6,970.0 L1036.6,975.3 L1039.1,978.0 L1042.7,975.8 L1046.3,977.2 L1047.5,975.8" fill="none" stroke="#444444" stroke-width="1.7" stroke-linejoin="round" stroke-linecap="round"/>
<path d="M758.5,1072.7 L762.0,1076.2 L765.5,1075.4 L768.4,1077.8 L770.9,1082.4 L773.5,1084.4 L776.0,1088.4 L779.1,1091.7 L782.3,1093.4 L785.4,1093.7 L789.3,1093.7 L793.2,1095.1 L797.1,1093.3 L801.1,1092.3 L805.1,1093.3 L808.5,1089.0 L811.7,1089.4 L814.9,1084.9 L818.1,1083.7 L820.9,1081.8 L823.7,1079.5 L826.5,1078.1 L829.3,1075.5 L832.1,1070.3 L834.6,1069.8 L837.1,1066.3 L839.6,1064.1 L842.1,1059.2 L845.0,1058.8 L848.5,1057.2 L852.0,1054.7 L855.5,1052.3 L858.9,1053.4 L862.2,1049.6 L865.5,1050.5 L868.8,1046.7 L872.1,1046.6 L875.4,1042.7 L878.5,1043.2 L881.5,1038.8 L884.5,1037.6 L887.5,1034.7 L890.5,1031.8 L894.0,1032.4 L897.5,1037.8 L900.9,1039.5 L904.1,1042.3 L907.2,1043.4 L910.5,1044.0 L914.0,1044.3 L917.5,1040.9 L919.3,1037.1 L921.0,1031.3 L922.8,1029.2 L924.1,1028.4 L925.2,1030.7 L926.2,1035.8 L927.3,1042.8 L928.5,1043.8 L930.0,1050.3 L931.4,1055.3 L932.9,1058.0 L934.8,1055.8 L937.4,1052.2 L939.7,1056.0 L942.1,1060.1 L944.4,1060.7 L947.9,1060.3 L951.0,1058.0 L953.8,1063.1 L956.5,1064.1 L959.7,1066.8 L963.6,1068.5 L967.5,1067.8 L971.3,1071.1 L974.8,1070.8 L978.3,1073.8 L981.8,1074.0 L985.3,1075.8 L989.0,1074.3 L992.7,1076.2 L996.5,1077.5 L1000.2,1077.6 L1003.9,1075.4 L1007.5,1077.3 L1011.0,1073.5 L1014.5,1074.0 L1017.0,1069.7 L1019.6,1066.9 L1022.1,1063.7 L1024.8,1061.4 L1028.0,1064.0 L1031.1,1068.5 L1034.3,1071.6 L1037.6,1070.8 L1040.9,1074.8 L1044.2,1074.2 L1047.5,1076.6 L1047.5,1077.4" fill="none" stroke="#2573e0" stroke-width="1.7" stroke-linejoin="round" stroke-linecap="round"/>
<rect x="758.3" y="887.2" width="289.5" height="228.79999999999995" fill="none" stroke="#666" stroke-width="2.2"/>
<line x1="763.5" y1="1116.0" x2="763.5" y2="1112.0" stroke="#666" stroke-width="1.6"/>
<line x1="791.4" y1="1116.0" x2="791.4" y2="1110.0" stroke="#666" stroke-width="1.6"/>
<line x1="819.3" y1="1116.0" x2="819.3" y2="1112.0" stroke="#666" stroke-width="1.6"/>
<line x1="847.2" y1="1116.0" x2="847.2" y2="1110.0" stroke="#666" stroke-width="1.6"/>
<line x1="875.2" y1="1116.0" x2="875.2" y2="1112.0" stroke="#666" stroke-width="1.6"/>
<line x1="903.1" y1="1116.0" x2="903.1" y2="1110.0" stroke="#666" stroke-width="1.6"/>
<line x1="931.0" y1="1116.0" x2="931.0" y2="1112.0" stroke="#666" stroke-width="1.6"/>
<line x1="959.0" y1="1116.0" x2="959.0" y2="1110.0" stroke="#666" stroke-width="1.6"/>
<line x1="986.9" y1="1116.0" x2="986.9" y2="1112.0" stroke="#666" stroke-width="1.6"/>
<line x1="1014.8" y1="1116.0" x2="1014.8" y2="1110.0" stroke="#666" stroke-width="1.6"/>
<line x1="1042.7" y1="1116.0" x2="1042.7" y2="1112.0" stroke="#666" stroke-width="1.6"/>
<text transform="translate(791.4,1133.8) scale(1.0,1.12)" font-size="13.5" text-anchor="middle" font-weight="normal" fill="#333" stroke="#333" stroke-width="0.15" >350</text>
<text transform="translate(847.2,1133.8) scale(1.0,1.12)" font-size="13.5" text-anchor="middle" font-weight="normal" fill="#333" stroke="#333" stroke-width="0.15" >400</text>
<text transform="translate(903.1,1133.8) scale(1.0,1.12)" font-size="13.5" text-anchor="middle" font-weight="normal" fill="#333" stroke="#333" stroke-width="0.15" >450</text>
<text transform="translate(959.0,1133.8) scale(1.0,1.12)" font-size="13.5" text-anchor="middle" font-weight="normal" fill="#333" stroke="#333" stroke-width="0.15" >500</text>
<text transform="translate(1014.8,1133.8) scale(1.0,1.12)" font-size="13.5" text-anchor="middle" font-weight="normal" fill="#333" stroke="#333" stroke-width="0.15" >550</text>
<text transform="translate(908.05,1151.5) scale(1.0,1.1)" font-size="12.8" text-anchor="middle" font-weight="normal" fill="#333" stroke="#333" stroke-width="0.12" >Wavelength / nm</text>
<text x="0" y="0" font-size="12.8" text-anchor="middle" fill="#333" stroke="#333" stroke-width="0.12" transform="translate(743.3,1005.6) rotate(-90) scale(1,1.12)">Intensity (a.u.)</text>
<line x1="767" y1="904.5" x2="796" y2="904.5" stroke="#444444" stroke-width="2"/>
<text transform="translate(799.4,909.3) scale(1,1.12)" font-size="12.5" fill="#333" stroke="#333" stroke-width="0.15">P-CeO<tspan font-size="9" dy="3">2</tspan><tspan dy="-3">-60% H</tspan><tspan font-size="9" dy="3">2</tspan></text>
<line x1="767" y1="923.2" x2="796" y2="923.2" stroke="#f5484b" stroke-width="2"/>
<text transform="translate(799.4,928.0) scale(1,1.12)" font-size="12.5" fill="#333" stroke="#333" stroke-width="0.15">C-CeO<tspan font-size="9" dy="3">2</tspan><tspan dy="-3">-60% H</tspan><tspan font-size="9" dy="3">2</tspan></text>
<line x1="767" y1="941.9" x2="796" y2="941.9" stroke="#2573e0" stroke-width="2"/>
<text transform="translate(799.4,946.7) scale(1,1.12)" font-size="12.5" fill="#333" stroke="#333" stroke-width="0.15">R-CeO<tspan font-size="9" dy="3">2</tspan><tspan dy="-3">-60% H</tspan><tspan font-size="9" dy="3">2</tspan></text>
<text x="1031.5" y="903.3" font-size="17" text-anchor="middle" font-weight="bold" fill="#2a2a2a" >(f)</text>
<path d="M1084.7,1067.4 L1087.9,1067.1 L1091.1,1070.8 L1094.3,1071.5 L1097.2,1074.0 L1099.5,1076.8 L1101.8,1082.5 L1104.2,1082.6 L1106.9,1086.1 L1110.3,1087.7 L1113.8,1090.8 L1117.3,1091.0 L1120.8,1089.8 L1124.4,1087.7 L1127.9,1084.1 L1131.4,1085.6 L1134.9,1081.4 L1137.3,1079.9 L1139.2,1080.1 L1141.0,1075.0 L1142.9,1072.9 L1144.7,1066.6 L1146.6,1065.4 L1148.4,1060.0 L1150.3,1057.2 L1152.1,1055.7 L1154.0,1050.3 L1155.9,1049.0 L1157.7,1043.8 L1159.6,1043.1 L1161.4,1037.4 L1163.3,1036.5 L1165.2,1032.6 L1167.0,1027.9 L1168.9,1024.4 L1170.8,1022.1 L1172.7,1017.2 L1174.5,1015.3 L1176.6,1010.8 L1179.2,1010.1 L1181.7,1006.8 L1184.3,1006.1 L1186.6,1003.0 L1188.8,1000.2 L1190.9,995.2 L1193.1,991.8 L1195.3,991.0 L1197.4,985.8 L1199.3,982.2 L1201.2,982.0 L1203.1,976.3 L1204.9,974.4 L1206.6,969.0 L1207.9,967.7 L1209.2,961.9 L1210.4,960.2 L1211.7,955.2 L1213.0,951.6 L1214.2,949.0 L1215.5,944.8 L1217.1,942.6 L1218.7,938.4 L1220.3,932.7 L1222.0,931.2 L1223.8,933.4 L1225.8,935.1 L1227.7,940.0 L1229.7,943.6 L1232.0,939.1 L1234.3,936.5 L1235.2,938.6 L1236.2,940.3 L1237.1,946.6 L1238.0,951.0 L1239.0,955.3 L1239.9,959.6 L1242.5,958.2 L1246.0,954.2 L1246.9,954.1 L1247.8,949.5 L1248.6,943.7 L1249.5,942.0 L1250.2,937.9 L1251.0,931.0 L1251.7,928.0 L1252.4,922.2 L1253.2,917.6 L1253.9,916.9 L1254.7,914.5 L1255.3,912.7 L1255.8,914.9 L1256.4,919.0 L1256.9,921.6 L1257.5,926.9 L1258.0,929.4 L1258.5,936.8 L1259.1,941.6 L1259.6,943.7 L1260.2,950.4 L1260.6,951.5 L1261.1,957.0 L1261.6,962.8 L1262.1,965.5 L1262.6,970.7 L1263.1,976.9 L1263.6,977.5 L1264.1,980.2 L1264.5,981.3 L1265.6,982.5 L1266.9,977.1 L1268.3,974.0 L1269.6,968.1 L1270.8,968.1 L1271.5,969.6 L1272.3,975.9 L1273.1,979.7 L1273.9,984.8 L1274.7,990.4 L1275.7,990.2 L1277.1,984.5 L1278.6,981.6 L1280.0,976.1 L1281.4,976.4 L1282.5,976.8 L1283.6,982.2 L1284.7,989.0 L1285.8,991.5 L1286.9,995.2 L1290.4,997.9 L1293.8,997.2 L1297.1,1001.6 L1300.3,1003.8 L1303.5,1004.2 L1306.7,1007.6 L1309.9,1008.7 L1313.1,1011.4 L1316.3,1015.3 L1319.6,1015.6 L1323.0,1016.4 L1326.5,1019.5 L1330.0,1018.6 L1333.5,1022.4 L1337.0,1022.5 L1340.5,1025.7 L1344.0,1023.3 L1346.4,1024.8 L1348.7,1020.6 L1351.1,1014.2 L1351.9,1013.8 L1352.7,1007.4 L1353.5,1004.8 L1354.3,996.9 L1355.1,994.8 L1355.9,991.0 L1357.0,990.7 L1358.7,994.2 L1360.4,998.1 L1362.1,1001.0 L1363.5,1006.3 L1364.7,1008.2 L1365.8,1013.4 L1367.0,1015.3 L1368.4,1021.8 L1369.9,1023.3 L1371.4,1028.1 L1372.9,1030.1 L1374.4,1035.1 L1374.4,1034.1" fill="none" stroke="#f5484b" stroke-width="1.7" stroke-linejoin="round" stroke-linecap="round"/>
<path d="M1084.7,1004.2 L1086.5,1006.1 L1088.4,1007.7 L1090.2,1011.8 L1092.1,1013.4 L1093.9,1018.4 L1095.8,1020.7 L1097.2,1023.5 L1098.3,1029.0 L1099.5,1031.0 L1100.7,1034.2 L1101.8,1040.2 L1103.0,1043.3 L1104.4,1047.1 L1105.9,1049.2 L1107.4,1054.6 L1108.9,1056.2 L1110.4,1060.8 L1113.2,1062.4 L1116.0,1065.9 L1118.8,1067.9 L1121.6,1069.4 L1124.4,1073.5 L1127.2,1073.9 L1130.4,1077.6 L1134.4,1077.4 L1138.4,1077.6 L1141.9,1078.3 L1145.4,1077.4 L1148.9,1075.0 L1152.4,1071.5 L1155.9,1073.2 L1159.5,1068.7 L1163.0,1069.7 L1166.5,1066.1 L1169.9,1067.6 L1173.4,1066.0 L1176.9,1061.2 L1180.1,1060.3 L1183.1,1058.4 L1186.1,1057.7 L1189.1,1054.5 L1192.1,1051.4 L1195.0,1051.3 L1197.9,1048.2 L1200.8,1047.9 L1203.7,1043.2 L1206.6,1040.2 L1209.1,1039.6 L1210.7,1036.5 L1212.4,1030.2 L1214.1,1028.1 L1215.7,1021.9 L1217.4,1019.8 L1219.1,1017.4 L1221.4,1013.7 L1225.0,1015.3 L1228.2,1011.1 L1231.3,1008.7 L1234.5,1006.9 L1237.2,1009.5 L1239.9,1011.8 L1242.5,1016.3 L1244.1,1014.6 L1245.7,1009.9 L1247.3,1008.6 L1249.0,1001.6 L1250.2,1000.2 L1251.2,994.6 L1252.2,991.3 L1253.2,985.1 L1254.2,984.3 L1255.2,981.4 L1256.3,986.3 L1257.3,989.4 L1258.3,994.1 L1259.3,996.8 L1260.3,1002.2 L1261.3,1004.1 L1262.2,1011.1 L1263.1,1013.0 L1264.1,1018.1 L1265.2,1016.7 L1266.8,1013.9 L1268.4,1007.1 L1269.8,1007.9 L1271.2,1010.2 L1272.5,1016.6 L1273.9,1021.0 L1275.2,1023.0 L1276.9,1021.0 L1278.7,1013.5 L1280.4,1011.8 L1281.9,1010.3 L1283.3,1016.9 L1284.6,1019.5 L1286.0,1025.2 L1288.2,1027.3 L1292.0,1024.9 L1295.9,1026.2 L1299.7,1028.2 L1303.2,1026.8 L1306.7,1030.9 L1310.2,1030.1 L1313.7,1031.8 L1317.2,1034.9 L1320.7,1035.1 L1324.2,1036.1 L1327.7,1038.2 L1331.2,1036.5 L1334.7,1035.7 L1338.2,1036.0 L1341.7,1034.4 L1344.7,1029.6 L1347.7,1026.7 L1349.5,1026.4 L1350.6,1023.4 L1351.8,1016.6 L1352.9,1011.3 L1354.1,1008.7 L1355.2,1004.5 L1356.4,1004.6 L1358.8,1006.6 L1361.1,1008.8 L1363.5,1014.2 L1366.4,1013.9 L1370.4,1013.9 L1374.4,1014.4 L1374.4,1015.4" fill="none" stroke="#444444" stroke-width="1.7" stroke-linejoin="round" stroke-linecap="round"/>
<path d="M1084.7,1075.3 L1087.9,1074.1 L1091.1,1078.6 L1094.3,1078.1 L1097.2,1082.9 L1099.8,1085.9 L1102.3,1086.6 L1104.9,1090.4 L1108.0,1094.7 L1111.5,1096.1 L1115.0,1094.6 L1118.9,1097.1 L1122.8,1095.5 L1126.7,1093.1 L1129.9,1093.1 L1133.1,1091.5 L1136.3,1085.9 L1139.3,1085.3 L1142.0,1081.0 L1144.7,1077.9 L1147.4,1076.0 L1150.1,1072.4 L1152.8,1072.1 L1155.5,1067.8 L1158.2,1066.8 L1160.9,1063.5 L1163.8,1058.9 L1166.7,1057.1 L1169.6,1056.9 L1172.5,1052.5 L1175.5,1052.4 L1178.5,1050.5 L1181.5,1046.5 L1184.5,1046.5 L1187.5,1042.7 L1189.7,1040.8 L1191.9,1039.2 L1194.1,1035.2 L1196.3,1034.0 L1198.6,1027.8 L1200.8,1024.7 L1202.7,1024.1 L1204.6,1019.5 L1206.5,1018.1 L1208.3,1013.3 L1210.2,1008.7 L1211.4,1006.9 L1212.3,1001.4 L1213.2,998.5 L1214.0,991.9 L1214.9,991.2 L1216.3,990.9 L1218.6,994.5 L1220.9,997.1 L1223.1,1000.3 L1224.9,996.8 L1226.7,991.7 L1228.5,986.6 L1230.0,987.8 L1231.1,987.5 L1232.1,994.8 L1233.1,997.3 L1234.1,1002.9 L1235.2,1006.4 L1236.8,1005.2 L1238.7,1002.2 L1240.5,998.8 L1242.4,995.9 L1244.1,990.2 L1245.1,985.8 L1246.2,981.7 L1247.2,978.6 L1248.3,973.6 L1249.3,976.1 L1250.1,975.2 L1250.9,980.3 L1251.7,984.9 L1252.6,989.1 L1253.4,992.5 L1254.2,998.3 L1255.2,1000.0 L1256.1,1006.8 L1257.1,1009.5 L1258.1,1014.5 L1259.0,1017.9 L1260.0,1017.1 L1262.5,1016.1 L1265.0,1011.7 L1266.8,1011.0 L1268.3,1014.2 L1269.7,1019.4 L1271.2,1025.0 L1273.8,1027.7 L1276.9,1028.0 L1280.0,1030.2 L1283.3,1033.1 L1286.8,1032.3 L1290.3,1035.7 L1293.8,1035.3 L1297.2,1038.3 L1300.4,1040.4 L1303.6,1039.4 L1306.8,1041.4 L1310.2,1044.5 L1313.7,1046.7 L1317.2,1046.7 L1320.7,1049.8 L1324.2,1050.1 L1327.9,1047.9 L1331.7,1049.9 L1335.4,1047.0 L1339.2,1049.0 L1342.1,1045.5 L1343.2,1043.7 L1344.3,1040.1 L1345.4,1033.7 L1346.5,1028.9 L1347.6,1024.9 L1348.7,1023.9 L1350.7,1026.9 L1352.7,1027.4 L1354.7,1033.3 L1356.8,1037.8 L1358.6,1039.2 L1360.3,1044.9 L1361.9,1046.4 L1363.6,1051.8 L1365.2,1054.0 L1366.9,1058.3 L1369.7,1057.8 L1373.2,1060.4 L1374.4,1059.7" fill="none" stroke="#2573e0" stroke-width="1.7" stroke-linejoin="round" stroke-linecap="round"/>
<rect x="1083.8" y="887.5" width="290.79999999999995" height="229.5" fill="none" stroke="#666" stroke-width="2.2"/>
<line x1="1090.2" y1="1117.0" x2="1090.2" y2="1113.0" stroke="#666" stroke-width="1.6"/>
<line x1="1118.2" y1="1117.0" x2="1118.2" y2="1111.0" stroke="#666" stroke-width="1.6"/>
<line x1="1146.2" y1="1117.0" x2="1146.2" y2="1113.0" stroke="#666" stroke-width="1.6"/>
<line x1="1174.1" y1="1117.0" x2="1174.1" y2="1111.0" stroke="#666" stroke-width="1.6"/>
<line x1="1202.0" y1="1117.0" x2="1202.0" y2="1113.0" stroke="#666" stroke-width="1.6"/>
<line x1="1230.0" y1="1117.0" x2="1230.0" y2="1111.0" stroke="#666" stroke-width="1.6"/>
<line x1="1258.0" y1="1117.0" x2="1258.0" y2="1113.0" stroke="#666" stroke-width="1.6"/>
<line x1="1285.9" y1="1117.0" x2="1285.9" y2="1111.0" stroke="#666" stroke-width="1.6"/>
<line x1="1313.9" y1="1117.0" x2="1313.9" y2="1113.0" stroke="#666" stroke-width="1.6"/>
<line x1="1341.8" y1="1117.0" x2="1341.8" y2="1111.0" stroke="#666" stroke-width="1.6"/>
<line x1="1369.8" y1="1117.0" x2="1369.8" y2="1113.0" stroke="#666" stroke-width="1.6"/>
<text transform="translate(1118.2,1134.8) scale(1.0,1.12)" font-size="13.5" text-anchor="middle" font-weight="normal" fill="#333" stroke="#333" stroke-width="0.15" >350</text>
<text transform="translate(1174.1,1134.8) scale(1.0,1.12)" font-size="13.5" text-anchor="middle" font-weight="normal" fill="#333" stroke="#333" stroke-width="0.15" >400</text>
<text transform="translate(1230.0,1134.8) scale(1.0,1.12)" font-size="13.5" text-anchor="middle" font-weight="normal" fill="#333" stroke="#333" stroke-width="0.15" >450</text>
<text transform="translate(1285.9,1134.8) scale(1.0,1.12)" font-size="13.5" text-anchor="middle" font-weight="normal" fill="#333" stroke="#333" stroke-width="0.15" >500</text>
<text transform="translate(1341.8,1134.8) scale(1.0,1.12)" font-size="13.5" text-anchor="middle" font-weight="normal" fill="#333" stroke="#333" stroke-width="0.15" >550</text>
<text transform="translate(1234.1999999999998,1152.5) scale(1.0,1.1)" font-size="12.8" text-anchor="middle" font-weight="normal" fill="#333" stroke="#333" stroke-width="0.12" >Wavelength / nm</text>
<text x="0" y="0" font-size="12.8" text-anchor="middle" fill="#333" stroke="#333" stroke-width="0.12" transform="translate(1068.8,1006.25) rotate(-90) scale(1,1.12)">Intensity (a.u.)</text>
<line x1="1095" y1="913.9" x2="1124" y2="913.9" stroke="#444444" stroke-width="2"/>
<text transform="translate(1126.7,918.7) scale(1,1.12)" font-size="12.5" fill="#333" stroke="#333" stroke-width="0.15">P-CeO<tspan font-size="9" dy="3">2</tspan><tspan dy="-3">-H</tspan><tspan font-size="9" dy="3">2</tspan></text>
<line x1="1095" y1="932.0" x2="1124" y2="932.0" stroke="#f5484b" stroke-width="2"/>
<text transform="translate(1126.7,936.8) scale(1,1.12)" font-size="12.5" fill="#333" stroke="#333" stroke-width="0.15">C-CeO<tspan font-size="9" dy="3">2</tspan><tspan dy="-3">-H</tspan><tspan font-size="9" dy="3">2</tspan></text>
<line x1="1095" y1="950.1" x2="1124" y2="950.1" stroke="#2573e0" stroke-width="2"/>
<text transform="translate(1126.7,954.9) scale(1,1.12)" font-size="12.5" fill="#333" stroke="#333" stroke-width="0.15">R-CeO<tspan font-size="9" dy="3">2</tspan><tspan dy="-3">-H</tspan><tspan font-size="9" dy="3">2</tspan></text>
<text x="1358.6" y="903.5" font-size="17" text-anchor="middle" font-weight="bold" fill="#2a2a2a" >(g)</text>
</g></svg></div></body></html>
